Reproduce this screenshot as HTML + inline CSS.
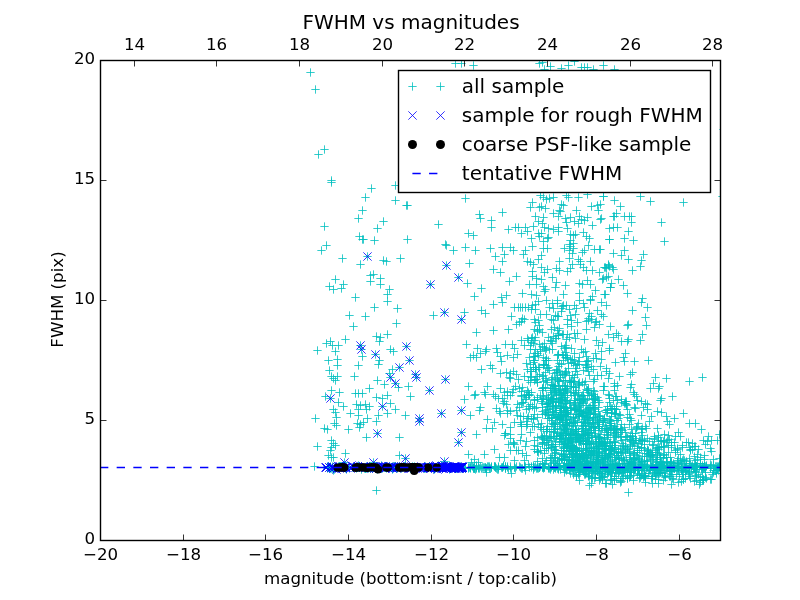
<!DOCTYPE html>
<html lang="en"><head><meta charset="utf-8"><title>FWHM vs magnitudes</title>
<style>html,body{margin:0;padding:0;background:#fff;overflow:hidden}svg{display:block}</style></head>
<body>
<svg width="800" height="600" viewBox="0 0 800 600">
<rect width="800" height="600" fill="#fff"/>
<defs><clipPath id="ax"><rect x="100" y="60" width="621" height="481"/></clipPath></defs>
<g clip-path="url(#ax)">
<path d="M327.33 182.5h8.34M331.5 178.33v8.34M367.33 188.5h8.34M371.5 184.33v8.34M391.33 185.5h8.34M395.5 181.33v8.34M361.33 197.5h8.34M365.5 193.33v8.34M391.33 200.5h8.34M395.5 196.33v8.34M402.33 205.5h8.34M406.5 201.33v8.34M403.33 205.5h8.34M407.5 201.33v8.34M358.33 210.5h8.34M362.5 206.33v8.34M354.33 218.5h8.34M358.5 214.33v8.34M379.33 221.5h8.34M383.5 217.33v8.34M320.33 226.5h8.34M324.5 222.33v8.34M373.33 228.5h8.34M377.5 224.33v8.34M434.33 224.5h8.34M438.5 220.33v8.34M355.33 236.5h8.34M359.5 232.33v8.34M358.33 239.5h8.34M362.5 235.33v8.34M359.33 239.5h8.34M363.5 235.33v8.34M370.33 240.5h8.34M374.5 236.33v8.34M403.33 239.5h8.34M407.5 235.33v8.34M322.33 245.5h8.34M326.5 241.33v8.34M317.33 250.5h8.34M321.5 246.33v8.34M441.33 244.5h8.34M445.5 240.33v8.34M442.33 245.5h8.34M446.5 241.33v8.34M338.33 258.5h8.34M342.5 254.33v8.34M363.33 256.5h8.34M367.5 252.33v8.34M356.33 264.5h8.34M360.5 260.33v8.34M379.33 260.5h8.34M383.5 256.33v8.34M382.33 261.5h8.34M386.5 257.33v8.34M396.33 258.5h8.34M400.5 254.33v8.34M442.33 265.5h8.34M446.5 261.33v8.34M331.33 279.5h8.34M335.5 275.33v8.34M366.33 275.5h8.34M370.5 271.33v8.34M369.33 274.5h8.34M373.5 270.33v8.34M376.33 278.5h8.34M380.5 274.33v8.34M366.33 281.5h8.34M370.5 277.33v8.34M376.33 284.5h8.34M380.5 280.33v8.34M426.33 284.5h8.34M430.5 280.33v8.34M325.33 286.5h8.34M329.5 282.33v8.34M329.33 289.5h8.34M333.5 285.33v8.34M339.33 284.5h8.34M343.5 280.33v8.34M337.33 288.5h8.34M341.5 284.33v8.34M385.33 289.5h8.34M389.5 285.33v8.34M383.33 294.5h8.34M387.5 290.33v8.34M351.33 297.5h8.34M355.5 293.33v8.34M383.33 301.5h8.34M387.5 297.33v8.34M370.33 307.5h8.34M374.5 303.33v8.34M393.33 308.5h8.34M397.5 304.33v8.34M345.33 315.5h8.34M349.5 311.33v8.34M361.33 316.5h8.34M365.5 312.33v8.34M429.33 315.5h8.34M433.5 311.33v8.34M440.33 312.5h8.34M444.5 308.33v8.34M349.33 326.5h8.34M353.5 322.33v8.34M392.33 323.5h8.34M396.5 319.33v8.34M383.33 334.5h8.34M387.5 330.33v8.34M372.33 336.5h8.34M376.5 332.33v8.34M376.33 337.5h8.34M380.5 333.33v8.34M375.33 341.5h8.34M379.5 337.33v8.34M341.33 339.5h8.34M345.5 335.33v8.34M326.33 341.5h8.34M330.5 337.33v8.34M322.33 343.5h8.34M326.5 339.33v8.34M328.33 345.5h8.34M332.5 341.33v8.34M334.33 345.5h8.34M338.5 341.33v8.34M313.33 350.5h8.34M317.5 346.33v8.34M331.33 351.5h8.34M335.5 347.33v8.34M356.33 345.5h8.34M360.5 341.33v8.34M357.33 349.5h8.34M361.5 345.33v8.34M358.33 356.5h8.34M362.5 352.33v8.34M371.33 354.5h8.34M375.5 350.33v8.34M386.33 349.5h8.34M390.5 345.33v8.34M389.33 351.5h8.34M393.5 347.33v8.34M402.33 346.5h8.34M406.5 342.33v8.34M405.33 360.5h8.34M409.5 356.33v8.34M375.33 360.5h8.34M379.5 356.33v8.34M374.33 364.5h8.34M378.5 360.33v8.34M324.33 360.5h8.34M328.5 356.33v8.34M333.33 359.5h8.34M337.5 355.33v8.34M333.33 365.5h8.34M337.5 361.33v8.34M354.33 365.5h8.34M358.5 361.33v8.34M395.33 367.5h8.34M399.5 363.33v8.34M388.33 369.5h8.34M392.5 365.33v8.34M385.33 373.5h8.34M389.5 369.33v8.34M386.33 377.5h8.34M390.5 373.33v8.34M350.33 376.5h8.34M354.5 372.33v8.34M325.33 370.5h8.34M329.5 366.33v8.34M327.33 376.5h8.34M331.5 372.33v8.34M329.33 378.5h8.34M333.5 374.33v8.34M333.33 376.5h8.34M337.5 372.33v8.34M331.33 380.5h8.34M335.5 376.33v8.34M373.33 380.5h8.34M377.5 376.33v8.34M411.33 374.5h8.34M415.5 370.33v8.34M412.33 377.5h8.34M416.5 373.33v8.34M391.33 383.5h8.34M395.5 379.33v8.34M380.33 384.5h8.34M384.5 380.33v8.34M394.33 387.5h8.34M398.5 383.33v8.34M404.33 386.5h8.34M408.5 382.33v8.34M441.33 379.5h8.34M445.5 375.33v8.34M365.33 388.5h8.34M369.5 384.33v8.34M425.33 390.5h8.34M429.5 386.33v8.34M327.33 390.5h8.34M331.5 386.33v8.34M335.33 392.5h8.34M339.5 388.33v8.34M351.33 393.5h8.34M355.5 389.33v8.34M354.33 393.5h8.34M358.5 389.33v8.34M358.33 393.5h8.34M362.5 389.33v8.34M372.33 397.5h8.34M376.5 393.33v8.34M378.33 398.5h8.34M382.5 394.33v8.34M383.33 395.5h8.34M387.5 391.33v8.34M406.33 396.5h8.34M410.5 392.33v8.34M326.33 398.5h8.34M330.5 394.33v8.34M321.33 396.5h8.34M325.5 392.33v8.34M334.33 402.5h8.34M338.5 398.33v8.34M339.33 406.5h8.34M343.5 402.33v8.34M386.33 403.5h8.34M390.5 399.33v8.34M378.33 406.5h8.34M382.5 402.33v8.34M352.33 404.5h8.34M356.5 400.33v8.34M356.33 405.5h8.34M360.5 401.33v8.34M361.33 404.5h8.34M365.5 400.33v8.34M365.33 406.5h8.34M369.5 402.33v8.34M362.33 409.5h8.34M366.5 405.33v8.34M354.33 409.5h8.34M358.5 405.33v8.34M346.33 413.5h8.34M350.5 409.33v8.34M329.33 409.5h8.34M333.5 405.33v8.34M331.33 412.5h8.34M335.5 408.33v8.34M391.33 409.5h8.34M395.5 405.33v8.34M383.33 413.5h8.34M387.5 409.33v8.34M374.33 415.5h8.34M378.5 411.33v8.34M354.33 415.5h8.34M358.5 411.33v8.34M401.33 415.5h8.34M405.5 411.33v8.34M437.33 413.5h8.34M441.5 409.33v8.34M415.33 418.5h8.34M419.5 414.33v8.34M311.33 418.5h8.34M315.5 414.33v8.34M332.33 417.5h8.34M336.5 413.33v8.34M363.33 418.5h8.34M367.5 414.33v8.34M330.33 423.5h8.34M334.5 419.33v8.34M332.33 425.5h8.34M336.5 421.33v8.34M320.33 428.5h8.34M324.5 424.33v8.34M323.33 429.5h8.34M327.5 425.33v8.34M344.33 429.5h8.34M348.5 425.33v8.34M353.33 423.5h8.34M357.5 419.33v8.34M356.33 424.5h8.34M360.5 420.33v8.34M359.33 422.5h8.34M363.5 418.33v8.34M355.33 427.5h8.34M359.5 423.33v8.34M372.33 421.5h8.34M376.5 417.33v8.34M373.33 433.5h8.34M377.5 429.33v8.34M362.33 437.5h8.34M366.5 433.33v8.34M395.33 437.5h8.34M399.5 433.33v8.34M415.33 421.5h8.34M419.5 417.33v8.34M313.33 446.5h8.34M317.5 442.33v8.34M327.33 440.5h8.34M331.5 436.33v8.34M329.33 443.5h8.34M333.5 439.33v8.34M327.33 447.5h8.34M331.5 443.33v8.34M331.33 445.5h8.34M335.5 441.33v8.34M326.33 450.5h8.34M330.5 446.33v8.34M341.33 453.5h8.34M345.5 449.33v8.34M324.33 455.5h8.34M328.5 451.33v8.34M327.33 457.5h8.34M331.5 453.33v8.34M329.33 457.5h8.34M333.5 453.33v8.34M395.33 455.5h8.34M399.5 451.33v8.34M401.33 458.5h8.34M405.5 454.33v8.34M310.33 466.5h8.34M314.5 462.33v8.34M372.33 490.5h8.34M376.5 486.33v8.34M369.33 462.5h8.34M373.5 458.33v8.34M340.33 462.5h8.34M344.5 458.33v8.34M440.33 461.5h8.34M444.5 457.33v8.34M306.33 72.5h8.34M310.5 68.33v8.34M311.33 89.5h8.34M315.5 85.33v8.34M320.33 149.5h8.34M324.5 145.33v8.34M314.33 154.5h8.34M318.5 150.33v8.34M327.33 180.5h8.34M331.5 176.33v8.34M719.33 129.5h8.34M723.5 125.33v8.34M451.33 63.5h8.34M455.5 59.33v8.34M457.33 63.5h8.34M461.5 59.33v8.34M469.33 65.5h8.34M473.5 61.33v8.34M535.33 63.5h8.34M539.5 59.33v8.34M538.33 62.5h8.34M542.5 58.33v8.34M546.33 66.5h8.34M550.5 62.33v8.34M557.33 68.5h8.34M561.5 64.33v8.34M564.33 65.5h8.34M568.5 61.33v8.34M570.33 61.5h8.34M574.5 57.33v8.34M577.33 67.5h8.34M581.5 63.33v8.34M580.33 67.5h8.34M584.5 63.33v8.34M583.33 67.5h8.34M587.5 63.33v8.34M599.33 65.5h8.34M603.5 61.33v8.34M540.33 69.5h8.34M544.5 65.33v8.34M589.33 69.5h8.34M593.5 65.33v8.34M610.33 69.5h8.34M614.5 65.33v8.34M461.33 198.5h8.34M465.5 194.33v8.34M536.33 195.5h8.34M540.5 191.33v8.34M539.33 197.5h8.34M543.5 193.33v8.34M542.33 199.5h8.34M546.5 195.33v8.34M545.33 198.5h8.34M549.5 194.33v8.34M549.33 197.5h8.34M553.5 193.33v8.34M528.33 202.5h8.34M532.5 198.33v8.34M526.33 207.5h8.34M530.5 203.33v8.34M537.33 206.5h8.34M541.5 202.33v8.34M562.33 195.5h8.34M566.5 191.33v8.34M564.33 197.5h8.34M568.5 193.33v8.34M574.33 197.5h8.34M578.5 193.33v8.34M583.33 194.5h8.34M587.5 190.33v8.34M599.33 196.5h8.34M603.5 192.33v8.34M557.33 204.5h8.34M561.5 200.33v8.34M559.33 205.5h8.34M563.5 201.33v8.34M555.33 210.5h8.34M559.5 206.33v8.34M572.33 210.5h8.34M576.5 206.33v8.34M593.33 205.5h8.34M597.5 201.33v8.34M594.33 210.5h8.34M598.5 206.33v8.34M587.33 206.5h8.34M591.5 202.33v8.34M498.33 212.5h8.34M502.5 208.33v8.34M475.33 214.5h8.34M479.5 210.33v8.34M476.33 218.5h8.34M480.5 214.33v8.34M487.33 220.5h8.34M491.5 216.33v8.34M487.33 227.5h8.34M491.5 223.33v8.34M531.33 216.5h8.34M535.5 212.33v8.34M539.33 217.5h8.34M543.5 213.33v8.34M534.33 221.5h8.34M538.5 217.33v8.34M538.33 223.5h8.34M542.5 219.33v8.34M529.33 226.5h8.34M533.5 222.33v8.34M540.33 227.5h8.34M544.5 223.33v8.34M544.33 228.5h8.34M548.5 224.33v8.34M554.33 216.5h8.34M558.5 212.33v8.34M561.33 218.5h8.34M565.5 214.33v8.34M566.33 217.5h8.34M570.5 213.33v8.34M562.33 222.5h8.34M566.5 218.33v8.34M570.33 221.5h8.34M574.5 217.33v8.34M575.33 216.5h8.34M579.5 212.33v8.34M577.33 219.5h8.34M581.5 215.33v8.34M574.33 223.5h8.34M578.5 219.33v8.34M580.33 220.5h8.34M584.5 216.33v8.34M596.33 219.5h8.34M600.5 215.33v8.34M588.33 225.5h8.34M592.5 221.33v8.34M563.33 228.5h8.34M567.5 224.33v8.34M605.33 228.5h8.34M609.5 224.33v8.34M504.33 229.5h8.34M508.5 225.33v8.34M511.33 227.5h8.34M515.5 223.33v8.34M514.33 227.5h8.34M518.5 223.33v8.34M521.33 227.5h8.34M525.5 223.33v8.34M517.33 233.5h8.34M521.5 229.33v8.34M523.33 231.5h8.34M527.5 227.33v8.34M534.33 233.5h8.34M538.5 229.33v8.34M537.33 233.5h8.34M541.5 229.33v8.34M549.33 229.5h8.34M553.5 225.33v8.34M554.33 231.5h8.34M558.5 227.33v8.34M464.33 233.5h8.34M468.5 229.33v8.34M469.33 235.5h8.34M473.5 231.33v8.34M571.33 234.5h8.34M575.5 230.33v8.34M579.33 232.5h8.34M583.5 228.33v8.34M582.33 236.5h8.34M586.5 232.33v8.34M527.33 238.5h8.34M531.5 234.33v8.34M543.33 238.5h8.34M547.5 234.33v8.34M539.33 241.5h8.34M543.5 237.33v8.34M566.33 240.5h8.34M570.5 236.33v8.34M565.33 244.5h8.34M569.5 240.33v8.34M605.33 239.5h8.34M609.5 235.33v8.34M461.33 247.5h8.34M465.5 243.33v8.34M449.33 250.5h8.34M453.5 246.33v8.34M471.33 250.5h8.34M475.5 246.33v8.34M486.33 248.5h8.34M490.5 244.33v8.34M498.33 247.5h8.34M502.5 243.33v8.34M506.33 247.5h8.34M510.5 243.33v8.34M509.33 250.5h8.34M513.5 246.33v8.34M528.33 246.5h8.34M532.5 242.33v8.34M539.33 248.5h8.34M543.5 244.33v8.34M521.33 250.5h8.34M525.5 246.33v8.34M519.33 254.5h8.34M523.5 250.33v8.34M560.33 248.5h8.34M564.5 244.33v8.34M566.33 246.5h8.34M570.5 242.33v8.34M580.33 250.5h8.34M584.5 246.33v8.34M578.33 252.5h8.34M582.5 248.33v8.34M590.33 249.5h8.34M594.5 245.33v8.34M595.33 249.5h8.34M599.5 245.33v8.34M491.33 256.5h8.34M495.5 252.33v8.34M500.33 254.5h8.34M504.5 250.33v8.34M498.33 261.5h8.34M502.5 257.33v8.34M537.33 255.5h8.34M541.5 251.33v8.34M534.33 259.5h8.34M538.5 255.33v8.34M523.33 261.5h8.34M527.5 257.33v8.34M526.33 262.5h8.34M530.5 258.33v8.34M529.33 264.5h8.34M533.5 260.33v8.34M555.33 261.5h8.34M559.5 257.33v8.34M565.33 258.5h8.34M569.5 254.33v8.34M574.33 259.5h8.34M578.5 255.33v8.34M576.33 261.5h8.34M580.5 257.33v8.34M568.33 264.5h8.34M572.5 260.33v8.34M465.33 263.5h8.34M469.5 259.33v8.34M489.33 269.5h8.34M493.5 265.33v8.34M496.33 272.5h8.34M500.5 268.33v8.34M537.33 267.5h8.34M541.5 263.33v8.34M543.33 269.5h8.34M547.5 265.33v8.34M540.33 272.5h8.34M544.5 268.33v8.34M528.33 271.5h8.34M532.5 267.33v8.34M552.33 268.5h8.34M556.5 264.33v8.34M555.33 270.5h8.34M559.5 266.33v8.34M563.33 271.5h8.34M567.5 267.33v8.34M566.33 268.5h8.34M570.5 264.33v8.34M579.33 267.5h8.34M583.5 263.33v8.34M582.33 270.5h8.34M586.5 266.33v8.34M588.33 270.5h8.34M592.5 266.33v8.34M601.33 267.5h8.34M605.5 263.33v8.34M605.33 266.5h8.34M609.5 262.33v8.34M454.33 277.5h8.34M458.5 273.33v8.34M512.33 276.5h8.34M516.5 272.33v8.34M505.33 281.5h8.34M509.5 277.33v8.34M528.33 276.5h8.34M532.5 272.33v8.34M532.33 278.5h8.34M536.5 274.33v8.34M537.33 279.5h8.34M541.5 275.33v8.34M548.33 277.5h8.34M552.5 273.33v8.34M552.33 282.5h8.34M556.5 278.33v8.34M463.33 283.5h8.34M467.5 279.33v8.34M525.33 284.5h8.34M529.5 280.33v8.34M532.33 284.5h8.34M536.5 280.33v8.34M539.33 286.5h8.34M543.5 282.33v8.34M541.33 289.5h8.34M545.5 285.33v8.34M561.33 285.5h8.34M565.5 281.33v8.34M575.33 283.5h8.34M579.5 279.33v8.34M583.33 280.5h8.34M587.5 276.33v8.34M586.33 284.5h8.34M590.5 280.33v8.34M599.33 278.5h8.34M603.5 274.33v8.34M604.33 276.5h8.34M608.5 272.33v8.34M477.33 288.5h8.34M481.5 284.33v8.34M470.33 296.5h8.34M474.5 292.33v8.34M497.33 297.5h8.34M501.5 293.33v8.34M502.33 295.5h8.34M506.5 291.33v8.34M518.33 293.5h8.34M522.5 289.33v8.34M527.33 294.5h8.34M531.5 290.33v8.34M532.33 295.5h8.34M536.5 291.33v8.34M540.33 291.5h8.34M544.5 287.33v8.34M559.33 294.5h8.34M563.5 290.33v8.34M591.33 290.5h8.34M595.5 286.33v8.34M588.33 296.5h8.34M592.5 292.33v8.34M586.33 299.5h8.34M590.5 295.33v8.34M601.33 294.5h8.34M605.5 290.33v8.34M460.33 312.5h8.34M464.5 308.33v8.34M457.33 319.5h8.34M461.5 315.33v8.34M477.33 310.5h8.34M481.5 306.33v8.34M481.33 313.5h8.34M485.5 309.33v8.34M489.33 304.5h8.34M493.5 300.33v8.34M498.33 302.5h8.34M502.5 298.33v8.34M510.33 307.5h8.34M514.5 303.33v8.34M514.33 307.5h8.34M518.5 303.33v8.34M516.33 307.5h8.34M520.5 303.33v8.34M518.33 307.5h8.34M522.5 303.33v8.34M521.33 307.5h8.34M525.5 303.33v8.34M524.33 307.5h8.34M528.5 303.33v8.34M507.33 316.5h8.34M511.5 312.33v8.34M518.33 318.5h8.34M522.5 314.33v8.34M520.33 319.5h8.34M524.5 315.33v8.34M517.33 321.5h8.34M521.5 317.33v8.34M515.33 322.5h8.34M519.5 318.33v8.34M512.33 324.5h8.34M516.5 320.33v8.34M472.33 332.5h8.34M476.5 328.33v8.34M489.33 330.5h8.34M493.5 326.33v8.34M504.33 329.5h8.34M508.5 325.33v8.34M462.33 344.5h8.34M466.5 340.33v8.34M473.33 348.5h8.34M477.5 344.33v8.34M469.33 355.5h8.34M473.5 351.33v8.34M466.33 357.5h8.34M470.5 353.33v8.34M472.33 357.5h8.34M476.5 353.33v8.34M476.33 353.5h8.34M480.5 349.33v8.34M482.33 349.5h8.34M486.5 345.33v8.34M481.33 351.5h8.34M485.5 347.33v8.34M492.33 348.5h8.34M496.5 344.33v8.34M493.33 352.5h8.34M497.5 348.33v8.34M501.33 344.5h8.34M505.5 340.33v8.34M508.33 344.5h8.34M512.5 340.33v8.34M510.33 348.5h8.34M514.5 344.33v8.34M517.33 340.5h8.34M521.5 336.33v8.34M520.33 345.5h8.34M524.5 341.33v8.34M523.33 338.5h8.34M527.5 334.33v8.34M524.33 340.5h8.34M528.5 336.33v8.34M496.33 356.5h8.34M500.5 352.33v8.34M503.33 355.5h8.34M507.5 351.33v8.34M509.33 357.5h8.34M513.5 353.33v8.34M513.33 354.5h8.34M517.5 350.33v8.34M525.33 357.5h8.34M529.5 353.33v8.34M477.33 369.5h8.34M481.5 365.33v8.34M486.33 365.5h8.34M490.5 361.33v8.34M488.33 368.5h8.34M492.5 364.33v8.34M497.33 361.5h8.34M501.5 357.33v8.34M496.33 373.5h8.34M500.5 369.33v8.34M502.33 372.5h8.34M506.5 368.33v8.34M506.33 373.5h8.34M510.5 369.33v8.34M505.33 377.5h8.34M509.5 373.33v8.34M506.33 378.5h8.34M510.5 374.33v8.34M509.33 371.5h8.34M513.5 367.33v8.34M512.33 374.5h8.34M516.5 370.33v8.34M514.33 379.5h8.34M518.5 375.33v8.34M520.33 376.5h8.34M524.5 372.33v8.34M523.33 369.5h8.34M527.5 365.33v8.34M522.33 363.5h8.34M526.5 359.33v8.34M464.33 386.5h8.34M468.5 382.33v8.34M483.33 386.5h8.34M487.5 382.33v8.34M496.33 388.5h8.34M500.5 384.33v8.34M500.33 392.5h8.34M504.5 388.33v8.34M511.33 386.5h8.34M515.5 382.33v8.34M515.33 388.5h8.34M519.5 384.33v8.34M517.33 391.5h8.34M521.5 387.33v8.34M471.33 394.5h8.34M475.5 390.33v8.34M470.33 395.5h8.34M474.5 391.33v8.34M480.33 392.5h8.34M484.5 388.33v8.34M481.33 394.5h8.34M485.5 390.33v8.34M489.33 394.5h8.34M493.5 390.33v8.34M491.33 396.5h8.34M495.5 392.33v8.34M494.33 398.5h8.34M498.5 394.33v8.34M498.33 398.5h8.34M502.5 394.33v8.34M500.33 401.5h8.34M504.5 397.33v8.34M502.33 404.5h8.34M506.5 400.33v8.34M499.33 403.5h8.34M503.5 399.33v8.34M460.33 399.5h8.34M464.5 395.33v8.34M457.33 410.5h8.34M461.5 406.33v8.34M476.33 407.5h8.34M480.5 403.33v8.34M475.33 410.5h8.34M479.5 406.33v8.34M466.33 415.5h8.34M470.5 411.33v8.34M492.33 408.5h8.34M496.5 404.33v8.34M495.33 411.5h8.34M499.5 407.33v8.34M496.33 413.5h8.34M500.5 409.33v8.34M503.33 410.5h8.34M507.5 406.33v8.34M506.33 411.5h8.34M510.5 407.33v8.34M503.33 413.5h8.34M507.5 409.33v8.34M513.33 404.5h8.34M517.5 400.33v8.34M515.33 407.5h8.34M519.5 403.33v8.34M512.33 410.5h8.34M516.5 406.33v8.34M513.33 415.5h8.34M517.5 411.33v8.34M518.33 402.5h8.34M522.5 398.33v8.34M521.33 399.5h8.34M525.5 395.33v8.34M523.33 390.5h8.34M527.5 386.33v8.34M525.33 394.5h8.34M529.5 390.33v8.34M483.33 419.5h8.34M487.5 415.33v8.34M524.33 416.5h8.34M528.5 412.33v8.34M457.33 432.5h8.34M461.5 428.33v8.34M454.33 442.5h8.34M458.5 438.33v8.34M472.33 434.5h8.34M476.5 430.33v8.34M482.33 428.5h8.34M486.5 424.33v8.34M488.33 428.5h8.34M492.5 424.33v8.34M490.33 422.5h8.34M494.5 418.33v8.34M498.33 424.5h8.34M502.5 420.33v8.34M510.33 422.5h8.34M514.5 418.33v8.34M506.33 427.5h8.34M510.5 423.33v8.34M501.33 433.5h8.34M505.5 429.33v8.34M500.33 435.5h8.34M504.5 431.33v8.34M504.33 444.5h8.34M508.5 440.33v8.34M490.33 449.5h8.34M494.5 445.33v8.34M480.33 454.5h8.34M484.5 450.33v8.34M464.33 454.5h8.34M468.5 450.33v8.34M517.33 434.5h8.34M521.5 430.33v8.34M516.33 440.5h8.34M520.5 436.33v8.34M514.33 450.5h8.34M518.5 446.33v8.34M521.33 446.5h8.34M525.5 442.33v8.34M522.33 455.5h8.34M526.5 451.33v8.34M495.33 457.5h8.34M499.5 453.33v8.34M500.33 457.5h8.34M504.5 453.33v8.34M470.33 459.5h8.34M474.5 455.33v8.34M467.33 462.5h8.34M471.5 458.33v8.34M474.33 462.5h8.34M478.5 458.33v8.34M510.33 460.5h8.34M514.5 456.33v8.34M526.33 432.5h8.34M530.5 428.33v8.34M530.33 440.5h8.34M534.5 436.33v8.34M533.33 446.5h8.34M537.5 442.33v8.34M534.33 452.5h8.34M538.5 448.33v8.34M528.33 426.5h8.34M532.5 422.33v8.34M523.33 424.5h8.34M527.5 420.33v8.34M482.33 472.5h8.34M486.5 468.33v8.34M507.33 473.5h8.34M511.5 469.33v8.34M572.33 475.5h8.34M576.5 471.33v8.34M585.33 485.5h8.34M589.5 481.33v8.34M601.33 483.5h8.34M605.5 479.33v8.34M595.33 480.5h8.34M599.5 476.33v8.34M599.33 196.5h8.34M603.5 192.33v8.34M610.33 200.5h8.34M614.5 196.33v8.34M636.33 196.5h8.34M640.5 192.33v8.34M646.33 201.5h8.34M650.5 197.33v8.34M679.33 202.5h8.34M683.5 198.33v8.34M616.33 206.5h8.34M620.5 202.33v8.34M612.33 213.5h8.34M616.5 209.33v8.34M609.33 216.5h8.34M613.5 212.33v8.34M610.33 216.5h8.34M614.5 212.33v8.34M620.33 216.5h8.34M624.5 212.33v8.34M625.33 216.5h8.34M629.5 212.33v8.34M627.33 216.5h8.34M631.5 212.33v8.34M597.33 218.5h8.34M601.5 214.33v8.34M627.33 222.5h8.34M631.5 218.33v8.34M657.33 222.5h8.34M661.5 218.33v8.34M609.33 227.5h8.34M613.5 223.33v8.34M613.33 227.5h8.34M617.5 223.33v8.34M624.33 231.5h8.34M628.5 227.33v8.34M605.33 239.5h8.34M609.5 235.33v8.34M620.33 238.5h8.34M624.5 234.33v8.34M629.33 240.5h8.34M633.5 236.33v8.34M660.33 241.5h8.34M664.5 237.33v8.34M596.33 249.5h8.34M600.5 245.33v8.34M609.33 253.5h8.34M613.5 249.33v8.34M620.33 250.5h8.34M624.5 246.33v8.34M617.33 255.5h8.34M621.5 251.33v8.34M639.33 254.5h8.34M643.5 250.33v8.34M624.33 259.5h8.34M628.5 255.33v8.34M637.33 260.5h8.34M641.5 256.33v8.34M636.33 266.5h8.34M640.5 262.33v8.34M604.33 264.5h8.34M608.5 260.33v8.34M600.33 267.5h8.34M604.5 263.33v8.34M608.33 267.5h8.34M612.5 263.33v8.34M609.33 269.5h8.34M613.5 265.33v8.34M628.33 270.5h8.34M632.5 266.33v8.34M602.33 277.5h8.34M606.5 273.33v8.34M598.33 279.5h8.34M602.5 275.33v8.34M614.33 279.5h8.34M618.5 275.33v8.34M607.33 283.5h8.34M611.5 279.33v8.34M619.33 285.5h8.34M623.5 281.33v8.34M600.33 294.5h8.34M604.5 290.33v8.34M623.33 293.5h8.34M627.5 289.33v8.34M638.33 298.5h8.34M642.5 294.33v8.34M602.33 305.5h8.34M606.5 301.33v8.34M637.33 302.5h8.34M641.5 298.33v8.34M643.33 307.5h8.34M647.5 303.33v8.34M597.33 314.5h8.34M601.5 310.33v8.34M599.33 316.5h8.34M603.5 312.33v8.34M641.33 317.5h8.34M645.5 313.33v8.34M606.33 326.5h8.34M610.5 322.33v8.34M623.33 325.5h8.34M627.5 321.33v8.34M624.33 324.5h8.34M628.5 320.33v8.34M604.33 334.5h8.34M608.5 330.33v8.34M609.33 337.5h8.34M613.5 333.33v8.34M614.33 335.5h8.34M618.5 331.33v8.34M638.33 334.5h8.34M642.5 330.33v8.34M636.33 340.5h8.34M640.5 336.33v8.34M617.33 341.5h8.34M621.5 337.33v8.34M598.33 342.5h8.34M602.5 338.33v8.34M605.33 348.5h8.34M609.5 344.33v8.34M597.33 351.5h8.34M601.5 347.33v8.34M621.33 353.5h8.34M625.5 349.33v8.34M619.33 357.5h8.34M623.5 353.33v8.34M611.33 362.5h8.34M615.5 358.33v8.34M630.33 361.5h8.34M634.5 357.33v8.34M597.33 359.5h8.34M601.5 355.33v8.34M628.33 372.5h8.34M632.5 368.33v8.34M605.33 373.5h8.34M609.5 369.33v8.34M597.33 375.5h8.34M601.5 371.33v8.34M615.33 376.5h8.34M619.5 372.33v8.34M604.33 378.5h8.34M608.5 374.33v8.34M662.33 378.5h8.34M666.5 374.33v8.34M698.33 377.5h8.34M702.5 373.33v8.34M685.33 381.5h8.34M689.5 377.33v8.34M649.33 383.5h8.34M653.5 379.33v8.34M613.33 385.5h8.34M617.5 381.33v8.34M600.33 386.5h8.34M604.5 382.33v8.34M626.33 387.5h8.34M630.5 383.33v8.34M654.33 388.5h8.34M658.5 384.33v8.34M599.33 390.5h8.34M603.5 386.33v8.34M630.33 394.5h8.34M634.5 390.33v8.34M632.33 396.5h8.34M636.5 392.33v8.34M605.33 395.5h8.34M609.5 391.33v8.34M657.33 398.5h8.34M661.5 394.33v8.34M668.33 396.5h8.34M672.5 392.33v8.34M613.33 400.5h8.34M617.5 396.33v8.34M605.33 402.5h8.34M609.5 398.33v8.34M620.33 403.5h8.34M624.5 399.33v8.34M641.33 403.5h8.34M645.5 399.33v8.34M643.33 404.5h8.34M647.5 400.33v8.34M608.33 408.5h8.34M612.5 404.33v8.34M623.33 409.5h8.34M627.5 405.33v8.34M643.33 409.5h8.34M647.5 405.33v8.34M653.33 411.5h8.34M657.5 407.33v8.34M679.33 413.5h8.34M683.5 409.33v8.34M602.33 412.5h8.34M606.5 408.33v8.34M611.33 413.5h8.34M615.5 409.33v8.34M615.33 414.5h8.34M619.5 410.33v8.34M625.33 414.5h8.34M629.5 410.33v8.34M637.33 415.5h8.34M641.5 411.33v8.34M647.33 416.5h8.34M651.5 412.33v8.34M662.33 416.5h8.34M666.5 412.33v8.34M600.33 418.5h8.34M604.5 414.33v8.34M614.33 418.5h8.34M618.5 414.33v8.34M626.33 418.5h8.34M630.5 414.33v8.34M624.33 492.5h8.34M628.5 488.33v8.34M718.33 196.5h8.34M722.5 192.33v8.34M531.33 304.5h8.34M535.5 300.33v8.34M527.33 309.5h8.34M531.5 305.33v8.34M528.33 305.5h8.34M532.5 301.33v8.34M531.33 309.5h8.34M535.5 305.33v8.34M534.33 301.5h8.34M538.5 297.33v8.34M530.33 319.5h8.34M534.5 315.33v8.34M553.33 303.5h8.34M557.5 299.33v8.34M547.33 319.5h8.34M551.5 315.33v8.34M545.33 307.5h8.34M549.5 303.33v8.34M551.33 315.5h8.34M555.5 311.33v8.34M536.33 314.5h8.34M540.5 310.33v8.34M542.33 300.5h8.34M546.5 296.33v8.34M553.33 300.5h8.34M557.5 296.33v8.34M542.33 314.5h8.34M546.5 310.33v8.34M553.33 316.5h8.34M557.5 312.33v8.34M548.33 303.5h8.34M552.5 299.33v8.34M549.33 308.5h8.34M553.5 304.33v8.34M554.33 316.5h8.34M558.5 312.33v8.34M558.33 306.5h8.34M562.5 302.33v8.34M566.33 315.5h8.34M570.5 311.33v8.34M562.33 305.5h8.34M566.5 301.33v8.34M565.33 309.5h8.34M569.5 305.33v8.34M575.33 300.5h8.34M579.5 296.33v8.34M557.33 311.5h8.34M561.5 307.33v8.34M571.33 314.5h8.34M575.5 310.33v8.34M572.33 308.5h8.34M576.5 304.33v8.34M557.33 308.5h8.34M561.5 304.33v8.34M563.33 319.5h8.34M567.5 315.33v8.34M559.33 305.5h8.34M563.5 301.33v8.34M570.33 305.5h8.34M574.5 301.33v8.34M584.33 318.5h8.34M588.5 314.33v8.34M587.33 319.5h8.34M591.5 315.33v8.34M586.33 300.5h8.34M590.5 296.33v8.34M593.33 310.5h8.34M597.5 306.33v8.34M579.33 303.5h8.34M583.5 299.33v8.34M585.33 313.5h8.34M589.5 309.33v8.34M580.33 307.5h8.34M584.5 303.33v8.34M587.33 316.5h8.34M591.5 312.33v8.34M597.33 302.5h8.34M601.5 298.33v8.34M628.33 310.5h8.34M632.5 306.33v8.34M527.33 338.5h8.34M531.5 334.33v8.34M535.33 325.5h8.34M539.5 321.33v8.34M528.33 337.5h8.34M532.5 333.33v8.34M533.33 330.5h8.34M537.5 326.33v8.34M534.33 320.5h8.34M538.5 316.33v8.34M531.33 322.5h8.34M535.5 318.33v8.34M531.33 337.5h8.34M535.5 333.33v8.34M535.33 329.5h8.34M539.5 325.33v8.34M533.33 331.5h8.34M537.5 327.33v8.34M530.33 329.5h8.34M534.5 325.33v8.34M550.33 327.5h8.34M554.5 323.33v8.34M551.33 338.5h8.34M555.5 334.33v8.34M544.33 337.5h8.34M548.5 333.33v8.34M553.33 330.5h8.34M557.5 326.33v8.34M555.33 328.5h8.34M559.5 324.33v8.34M538.33 332.5h8.34M542.5 328.33v8.34M554.33 333.5h8.34M558.5 329.33v8.34M549.33 336.5h8.34M553.5 332.33v8.34M547.33 329.5h8.34M551.5 325.33v8.34M554.33 335.5h8.34M558.5 331.33v8.34M549.33 320.5h8.34M553.5 316.33v8.34M554.33 335.5h8.34M558.5 331.33v8.34M552.33 338.5h8.34M556.5 334.33v8.34M567.33 326.5h8.34M571.5 322.33v8.34M565.33 337.5h8.34M569.5 333.33v8.34M573.33 333.5h8.34M577.5 329.33v8.34M567.33 320.5h8.34M571.5 316.33v8.34M559.33 334.5h8.34M563.5 330.33v8.34M558.33 334.5h8.34M562.5 330.33v8.34M570.33 333.5h8.34M574.5 329.33v8.34M573.33 322.5h8.34M577.5 318.33v8.34M562.33 339.5h8.34M566.5 335.33v8.34M563.33 334.5h8.34M567.5 330.33v8.34M571.33 338.5h8.34M575.5 334.33v8.34M563.33 324.5h8.34M567.5 320.33v8.34M584.33 320.5h8.34M588.5 316.33v8.34M595.33 324.5h8.34M599.5 320.33v8.34M582.33 321.5h8.34M586.5 317.33v8.34M592.33 321.5h8.34M596.5 317.33v8.34M580.33 339.5h8.34M584.5 335.33v8.34M582.33 329.5h8.34M586.5 325.33v8.34M591.33 322.5h8.34M595.5 318.33v8.34M590.33 327.5h8.34M594.5 323.33v8.34M612.33 333.5h8.34M616.5 329.33v8.34M624.33 339.5h8.34M628.5 335.33v8.34M642.33 325.5h8.34M646.5 321.33v8.34M534.33 355.5h8.34M538.5 351.33v8.34M526.33 345.5h8.34M530.5 341.33v8.34M526.33 349.5h8.34M530.5 345.33v8.34M529.33 356.5h8.34M533.5 352.33v8.34M530.33 340.5h8.34M534.5 336.33v8.34M529.33 343.5h8.34M533.5 339.33v8.34M527.33 342.5h8.34M531.5 338.33v8.34M533.33 353.5h8.34M537.5 349.33v8.34M531.33 356.5h8.34M535.5 352.33v8.34M531.33 349.5h8.34M535.5 345.33v8.34M530.33 353.5h8.34M534.5 349.33v8.34M535.33 344.5h8.34M539.5 340.33v8.34M547.33 341.5h8.34M551.5 337.33v8.34M542.33 358.5h8.34M546.5 354.33v8.34M546.33 340.5h8.34M550.5 336.33v8.34M540.33 347.5h8.34M544.5 343.33v8.34M554.33 354.5h8.34M558.5 350.33v8.34M553.33 355.5h8.34M557.5 351.33v8.34M540.33 343.5h8.34M544.5 339.33v8.34M536.33 351.5h8.34M540.5 347.33v8.34M548.33 349.5h8.34M552.5 345.33v8.34M541.33 350.5h8.34M545.5 346.33v8.34M554.33 354.5h8.34M558.5 350.33v8.34M542.33 348.5h8.34M546.5 344.33v8.34M536.33 349.5h8.34M540.5 345.33v8.34M548.33 343.5h8.34M552.5 339.33v8.34M545.33 349.5h8.34M549.5 345.33v8.34M539.33 357.5h8.34M543.5 353.33v8.34M538.33 346.5h8.34M542.5 342.33v8.34M561.33 357.5h8.34M565.5 353.33v8.34M561.33 352.5h8.34M565.5 348.33v8.34M567.33 348.5h8.34M571.5 344.33v8.34M568.33 359.5h8.34M572.5 355.33v8.34M559.33 355.5h8.34M563.5 351.33v8.34M558.33 354.5h8.34M562.5 350.33v8.34M562.33 347.5h8.34M566.5 343.33v8.34M557.33 346.5h8.34M561.5 342.33v8.34M561.33 345.5h8.34M565.5 341.33v8.34M566.33 359.5h8.34M570.5 355.33v8.34M575.33 357.5h8.34M579.5 353.33v8.34M562.33 355.5h8.34M566.5 351.33v8.34M570.33 353.5h8.34M574.5 349.33v8.34M563.33 358.5h8.34M567.5 354.33v8.34M563.33 357.5h8.34M567.5 353.33v8.34M560.33 348.5h8.34M564.5 344.33v8.34M582.33 356.5h8.34M586.5 352.33v8.34M592.33 340.5h8.34M596.5 336.33v8.34M579.33 352.5h8.34M583.5 348.33v8.34M577.33 349.5h8.34M581.5 345.33v8.34M591.33 353.5h8.34M595.5 349.33v8.34M581.33 351.5h8.34M585.5 347.33v8.34M592.33 358.5h8.34M596.5 354.33v8.34M594.33 345.5h8.34M598.5 341.33v8.34M589.33 358.5h8.34M593.5 354.33v8.34M605.33 350.5h8.34M609.5 346.33v8.34M623.33 341.5h8.34M627.5 337.33v8.34M530.33 360.5h8.34M534.5 356.33v8.34M531.33 367.5h8.34M535.5 363.33v8.34M526.33 371.5h8.34M530.5 367.33v8.34M531.33 369.5h8.34M535.5 365.33v8.34M529.33 367.5h8.34M533.5 363.33v8.34M534.33 367.5h8.34M538.5 363.33v8.34M532.33 379.5h8.34M536.5 375.33v8.34M535.33 367.5h8.34M539.5 363.33v8.34M527.33 371.5h8.34M531.5 367.33v8.34M533.33 376.5h8.34M537.5 372.33v8.34M531.33 367.5h8.34M535.5 363.33v8.34M535.33 374.5h8.34M539.5 370.33v8.34M526.33 364.5h8.34M530.5 360.33v8.34M529.33 362.5h8.34M533.5 358.33v8.34M532.33 369.5h8.34M536.5 365.33v8.34M530.33 360.5h8.34M534.5 356.33v8.34M531.33 379.5h8.34M535.5 375.33v8.34M527.33 377.5h8.34M531.5 373.33v8.34M526.33 376.5h8.34M530.5 372.33v8.34M553.33 370.5h8.34M557.5 366.33v8.34M544.33 367.5h8.34M548.5 363.33v8.34M542.33 365.5h8.34M546.5 361.33v8.34M543.33 368.5h8.34M547.5 364.33v8.34M541.33 372.5h8.34M545.5 368.33v8.34M551.33 378.5h8.34M555.5 374.33v8.34M553.33 372.5h8.34M557.5 368.33v8.34M539.33 364.5h8.34M543.5 360.33v8.34M539.33 375.5h8.34M543.5 371.33v8.34M548.33 377.5h8.34M552.5 373.33v8.34M552.33 369.5h8.34M556.5 365.33v8.34M541.33 360.5h8.34M545.5 356.33v8.34M541.33 378.5h8.34M545.5 374.33v8.34M547.33 379.5h8.34M551.5 375.33v8.34M539.33 365.5h8.34M543.5 361.33v8.34M545.33 370.5h8.34M549.5 366.33v8.34M544.33 360.5h8.34M548.5 356.33v8.34M550.33 373.5h8.34M554.5 369.33v8.34M553.33 360.5h8.34M557.5 356.33v8.34M542.33 360.5h8.34M546.5 356.33v8.34M540.33 364.5h8.34M544.5 360.33v8.34M555.33 363.5h8.34M559.5 359.33v8.34M553.33 379.5h8.34M557.5 375.33v8.34M552.33 372.5h8.34M556.5 368.33v8.34M554.33 366.5h8.34M558.5 362.33v8.34M555.33 371.5h8.34M559.5 367.33v8.34M538.33 376.5h8.34M542.5 372.33v8.34M556.33 375.5h8.34M560.5 371.33v8.34M575.33 364.5h8.34M579.5 360.33v8.34M558.33 374.5h8.34M562.5 370.33v8.34M559.33 360.5h8.34M563.5 356.33v8.34M573.33 364.5h8.34M577.5 360.33v8.34M561.33 373.5h8.34M565.5 369.33v8.34M570.33 377.5h8.34M574.5 373.33v8.34M564.33 368.5h8.34M568.5 364.33v8.34M556.33 377.5h8.34M560.5 373.33v8.34M573.33 374.5h8.34M577.5 370.33v8.34M571.33 371.5h8.34M575.5 367.33v8.34M569.33 363.5h8.34M573.5 359.33v8.34M574.33 361.5h8.34M578.5 357.33v8.34M568.33 375.5h8.34M572.5 371.33v8.34M565.33 375.5h8.34M569.5 371.33v8.34M564.33 363.5h8.34M568.5 359.33v8.34M557.33 364.5h8.34M561.5 360.33v8.34M571.33 365.5h8.34M575.5 361.33v8.34M567.33 362.5h8.34M571.5 358.33v8.34M562.33 372.5h8.34M566.5 368.33v8.34M560.33 374.5h8.34M564.5 370.33v8.34M572.33 368.5h8.34M576.5 364.33v8.34M561.33 371.5h8.34M565.5 367.33v8.34M570.33 360.5h8.34M574.5 356.33v8.34M582.33 361.5h8.34M586.5 357.33v8.34M583.33 361.5h8.34M587.5 357.33v8.34M593.33 375.5h8.34M597.5 371.33v8.34M579.33 370.5h8.34M583.5 366.33v8.34M582.33 364.5h8.34M586.5 360.33v8.34M584.33 371.5h8.34M588.5 367.33v8.34M585.33 375.5h8.34M589.5 371.33v8.34M584.33 360.5h8.34M588.5 356.33v8.34M587.33 366.5h8.34M591.5 362.33v8.34M590.33 379.5h8.34M594.5 375.33v8.34M589.33 369.5h8.34M593.5 365.33v8.34M583.33 367.5h8.34M587.5 363.33v8.34M582.33 367.5h8.34M586.5 363.33v8.34M581.33 365.5h8.34M585.5 361.33v8.34M596.33 366.5h8.34M600.5 362.33v8.34M602.33 371.5h8.34M606.5 367.33v8.34M602.33 368.5h8.34M606.5 364.33v8.34M626.33 374.5h8.34M630.5 370.33v8.34M620.33 361.5h8.34M624.5 357.33v8.34M651.33 377.5h8.34M655.5 373.33v8.34M644.33 360.5h8.34M648.5 356.33v8.34M509.33 389.5h8.34M513.5 385.33v8.34M508.33 392.5h8.34M512.5 388.33v8.34M503.33 395.5h8.34M507.5 391.33v8.34M506.33 395.5h8.34M510.5 391.33v8.34M503.33 391.5h8.34M507.5 387.33v8.34M524.33 392.5h8.34M528.5 388.33v8.34M517.33 395.5h8.34M521.5 391.33v8.34M524.33 395.5h8.34M528.5 391.33v8.34M522.33 394.5h8.34M526.5 390.33v8.34M530.33 380.5h8.34M534.5 376.33v8.34M527.33 392.5h8.34M531.5 388.33v8.34M533.33 382.5h8.34M537.5 378.33v8.34M533.33 397.5h8.34M537.5 393.33v8.34M517.33 396.5h8.34M521.5 392.33v8.34M525.33 395.5h8.34M529.5 391.33v8.34M526.33 382.5h8.34M530.5 378.33v8.34M530.33 399.5h8.34M534.5 395.33v8.34M524.33 380.5h8.34M528.5 376.33v8.34M518.33 387.5h8.34M522.5 383.33v8.34M533.33 399.5h8.34M537.5 395.33v8.34M533.33 382.5h8.34M537.5 378.33v8.34M520.33 395.5h8.34M524.5 391.33v8.34M522.33 397.5h8.34M526.5 393.33v8.34M547.33 384.5h8.34M551.5 380.33v8.34M548.33 385.5h8.34M552.5 381.33v8.34M550.33 393.5h8.34M554.5 389.33v8.34M538.33 390.5h8.34M542.5 386.33v8.34M552.33 391.5h8.34M556.5 387.33v8.34M547.33 394.5h8.34M551.5 390.33v8.34M555.33 390.5h8.34M559.5 386.33v8.34M542.33 380.5h8.34M546.5 376.33v8.34M551.33 385.5h8.34M555.5 381.33v8.34M542.33 395.5h8.34M546.5 391.33v8.34M550.33 388.5h8.34M554.5 384.33v8.34M549.33 385.5h8.34M553.5 381.33v8.34M544.33 399.5h8.34M548.5 395.33v8.34M544.33 397.5h8.34M548.5 393.33v8.34M541.33 387.5h8.34M545.5 383.33v8.34M538.33 399.5h8.34M542.5 395.33v8.34M548.33 388.5h8.34M552.5 384.33v8.34M539.33 396.5h8.34M543.5 392.33v8.34M539.33 381.5h8.34M543.5 377.33v8.34M547.33 392.5h8.34M551.5 388.33v8.34M554.33 381.5h8.34M558.5 377.33v8.34M551.33 388.5h8.34M555.5 384.33v8.34M539.33 387.5h8.34M543.5 383.33v8.34M554.33 386.5h8.34M558.5 382.33v8.34M552.33 395.5h8.34M556.5 391.33v8.34M552.33 398.5h8.34M556.5 394.33v8.34M553.33 380.5h8.34M557.5 376.33v8.34M547.33 398.5h8.34M551.5 394.33v8.34M555.33 381.5h8.34M559.5 377.33v8.34M546.33 388.5h8.34M550.5 384.33v8.34M538.33 388.5h8.34M542.5 384.33v8.34M551.33 392.5h8.34M555.5 388.33v8.34M546.33 390.5h8.34M550.5 386.33v8.34M550.33 386.5h8.34M554.5 382.33v8.34M543.33 382.5h8.34M547.5 378.33v8.34M549.33 398.5h8.34M553.5 394.33v8.34M536.33 395.5h8.34M540.5 391.33v8.34M539.33 398.5h8.34M543.5 394.33v8.34M542.33 399.5h8.34M546.5 395.33v8.34M549.33 388.5h8.34M553.5 384.33v8.34M538.33 388.5h8.34M542.5 384.33v8.34M549.33 399.5h8.34M553.5 395.33v8.34M555.33 394.5h8.34M559.5 390.33v8.34M554.33 392.5h8.34M558.5 388.33v8.34M548.33 399.5h8.34M552.5 395.33v8.34M548.33 399.5h8.34M552.5 395.33v8.34M571.33 393.5h8.34M575.5 389.33v8.34M560.33 385.5h8.34M564.5 381.33v8.34M562.33 390.5h8.34M566.5 386.33v8.34M569.33 386.5h8.34M573.5 382.33v8.34M556.33 390.5h8.34M560.5 386.33v8.34M569.33 381.5h8.34M573.5 377.33v8.34M566.33 382.5h8.34M570.5 378.33v8.34M574.33 383.5h8.34M578.5 379.33v8.34M572.33 390.5h8.34M576.5 386.33v8.34M561.33 380.5h8.34M565.5 376.33v8.34M563.33 386.5h8.34M567.5 382.33v8.34M567.33 395.5h8.34M571.5 391.33v8.34M559.33 392.5h8.34M563.5 388.33v8.34M575.33 385.5h8.34M579.5 381.33v8.34M570.33 381.5h8.34M574.5 377.33v8.34M575.33 382.5h8.34M579.5 378.33v8.34M556.33 399.5h8.34M560.5 395.33v8.34M575.33 399.5h8.34M579.5 395.33v8.34M571.33 387.5h8.34M575.5 383.33v8.34M558.33 399.5h8.34M562.5 395.33v8.34M561.33 397.5h8.34M565.5 393.33v8.34M573.33 398.5h8.34M577.5 394.33v8.34M575.33 399.5h8.34M579.5 395.33v8.34M565.33 381.5h8.34M569.5 377.33v8.34M557.33 398.5h8.34M561.5 394.33v8.34M558.33 395.5h8.34M562.5 391.33v8.34M563.33 391.5h8.34M567.5 387.33v8.34M569.33 387.5h8.34M573.5 383.33v8.34M563.33 388.5h8.34M567.5 384.33v8.34M574.33 384.5h8.34M578.5 380.33v8.34M561.33 389.5h8.34M565.5 385.33v8.34M561.33 388.5h8.34M565.5 384.33v8.34M557.33 394.5h8.34M561.5 390.33v8.34M560.33 393.5h8.34M564.5 389.33v8.34M559.33 393.5h8.34M563.5 389.33v8.34M556.33 389.5h8.34M560.5 385.33v8.34M567.33 382.5h8.34M571.5 378.33v8.34M559.33 380.5h8.34M563.5 376.33v8.34M558.33 385.5h8.34M562.5 381.33v8.34M567.33 386.5h8.34M571.5 382.33v8.34M569.33 392.5h8.34M573.5 388.33v8.34M563.33 395.5h8.34M567.5 391.33v8.34M566.33 392.5h8.34M570.5 388.33v8.34M557.33 395.5h8.34M561.5 391.33v8.34M561.33 386.5h8.34M565.5 382.33v8.34M574.33 394.5h8.34M578.5 390.33v8.34M574.33 392.5h8.34M578.5 388.33v8.34M557.33 397.5h8.34M561.5 393.33v8.34M570.33 395.5h8.34M574.5 391.33v8.34M567.33 380.5h8.34M571.5 376.33v8.34M589.33 381.5h8.34M593.5 377.33v8.34M578.33 382.5h8.34M582.5 378.33v8.34M583.33 399.5h8.34M587.5 395.33v8.34M589.33 399.5h8.34M593.5 395.33v8.34M587.33 393.5h8.34M591.5 389.33v8.34M591.33 396.5h8.34M595.5 392.33v8.34M580.33 384.5h8.34M584.5 380.33v8.34M581.33 381.5h8.34M585.5 377.33v8.34M591.33 398.5h8.34M595.5 394.33v8.34M589.33 390.5h8.34M593.5 386.33v8.34M584.33 390.5h8.34M588.5 386.33v8.34M584.33 388.5h8.34M588.5 384.33v8.34M577.33 396.5h8.34M581.5 392.33v8.34M580.33 398.5h8.34M584.5 394.33v8.34M584.33 392.5h8.34M588.5 388.33v8.34M579.33 399.5h8.34M583.5 395.33v8.34M585.33 395.5h8.34M589.5 391.33v8.34M593.33 397.5h8.34M597.5 393.33v8.34M579.33 395.5h8.34M583.5 391.33v8.34M587.33 395.5h8.34M591.5 391.33v8.34M578.33 395.5h8.34M582.5 391.33v8.34M582.33 389.5h8.34M586.5 385.33v8.34M590.33 391.5h8.34M594.5 387.33v8.34M588.33 398.5h8.34M592.5 394.33v8.34M579.33 399.5h8.34M583.5 395.33v8.34M589.33 394.5h8.34M593.5 390.33v8.34M590.33 399.5h8.34M594.5 395.33v8.34M583.33 390.5h8.34M587.5 386.33v8.34M579.33 395.5h8.34M583.5 391.33v8.34M583.33 390.5h8.34M587.5 386.33v8.34M604.33 394.5h8.34M608.5 390.33v8.34M599.33 386.5h8.34M603.5 382.33v8.34M610.33 390.5h8.34M614.5 386.33v8.34M612.33 396.5h8.34M616.5 392.33v8.34M610.33 383.5h8.34M614.5 379.33v8.34M610.33 386.5h8.34M614.5 382.33v8.34M605.33 398.5h8.34M609.5 394.33v8.34M611.33 396.5h8.34M615.5 392.33v8.34M617.33 399.5h8.34M621.5 395.33v8.34M627.33 384.5h8.34M631.5 380.33v8.34M629.33 392.5h8.34M633.5 388.33v8.34M646.33 388.5h8.34M650.5 384.33v8.34M655.33 386.5h8.34M659.5 382.33v8.34M529.33 419.5h8.34M533.5 415.33v8.34M528.33 406.5h8.34M532.5 402.33v8.34M527.33 418.5h8.34M531.5 414.33v8.34M523.33 418.5h8.34M527.5 414.33v8.34M524.33 406.5h8.34M528.5 402.33v8.34M532.33 407.5h8.34M536.5 403.33v8.34M522.33 409.5h8.34M526.5 405.33v8.34M519.33 402.5h8.34M523.5 398.33v8.34M526.33 404.5h8.34M530.5 400.33v8.34M525.33 408.5h8.34M529.5 404.33v8.34M519.33 416.5h8.34M523.5 412.33v8.34M517.33 403.5h8.34M521.5 399.33v8.34M533.33 417.5h8.34M537.5 413.33v8.34M516.33 416.5h8.34M520.5 412.33v8.34M530.33 400.5h8.34M534.5 396.33v8.34M529.33 418.5h8.34M533.5 414.33v8.34M530.33 414.5h8.34M534.5 410.33v8.34M530.33 408.5h8.34M534.5 404.33v8.34M552.33 405.5h8.34M556.5 401.33v8.34M543.33 406.5h8.34M547.5 402.33v8.34M542.33 412.5h8.34M546.5 408.33v8.34M548.33 411.5h8.34M552.5 407.33v8.34M549.33 401.5h8.34M553.5 397.33v8.34M538.33 411.5h8.34M542.5 407.33v8.34M544.33 403.5h8.34M548.5 399.33v8.34M544.33 412.5h8.34M548.5 408.33v8.34M546.33 400.5h8.34M550.5 396.33v8.34M549.33 405.5h8.34M553.5 401.33v8.34M548.33 408.5h8.34M552.5 404.33v8.34M548.33 415.5h8.34M552.5 411.33v8.34M551.33 412.5h8.34M555.5 408.33v8.34M555.33 419.5h8.34M559.5 415.33v8.34M544.33 403.5h8.34M548.5 399.33v8.34M555.33 419.5h8.34M559.5 415.33v8.34M545.33 418.5h8.34M549.5 414.33v8.34M543.33 409.5h8.34M547.5 405.33v8.34M546.33 409.5h8.34M550.5 405.33v8.34M554.33 416.5h8.34M558.5 412.33v8.34M544.33 402.5h8.34M548.5 398.33v8.34M544.33 415.5h8.34M548.5 411.33v8.34M551.33 406.5h8.34M555.5 402.33v8.34M552.33 410.5h8.34M556.5 406.33v8.34M548.33 406.5h8.34M552.5 402.33v8.34M548.33 401.5h8.34M552.5 397.33v8.34M546.33 400.5h8.34M550.5 396.33v8.34M537.33 401.5h8.34M541.5 397.33v8.34M541.33 414.5h8.34M545.5 410.33v8.34M543.33 404.5h8.34M547.5 400.33v8.34M554.33 402.5h8.34M558.5 398.33v8.34M553.33 417.5h8.34M557.5 413.33v8.34M538.33 407.5h8.34M542.5 403.33v8.34M547.33 417.5h8.34M551.5 413.33v8.34M538.33 414.5h8.34M542.5 410.33v8.34M551.33 402.5h8.34M555.5 398.33v8.34M545.33 406.5h8.34M549.5 402.33v8.34M549.33 414.5h8.34M553.5 410.33v8.34M555.33 402.5h8.34M559.5 398.33v8.34M541.33 413.5h8.34M545.5 409.33v8.34M553.33 418.5h8.34M557.5 414.33v8.34M554.33 416.5h8.34M558.5 412.33v8.34M541.33 410.5h8.34M545.5 406.33v8.34M543.33 418.5h8.34M547.5 414.33v8.34M554.33 401.5h8.34M558.5 397.33v8.34M555.33 412.5h8.34M559.5 408.33v8.34M552.33 417.5h8.34M556.5 413.33v8.34M542.33 404.5h8.34M546.5 400.33v8.34M549.33 414.5h8.34M553.5 410.33v8.34M550.33 414.5h8.34M554.5 410.33v8.34M538.33 403.5h8.34M542.5 399.33v8.34M551.33 407.5h8.34M555.5 403.33v8.34M564.33 413.5h8.34M568.5 409.33v8.34M563.33 400.5h8.34M567.5 396.33v8.34M570.33 402.5h8.34M574.5 398.33v8.34M557.33 414.5h8.34M561.5 410.33v8.34M557.33 418.5h8.34M561.5 414.33v8.34M565.33 403.5h8.34M569.5 399.33v8.34M575.33 407.5h8.34M579.5 403.33v8.34M562.33 408.5h8.34M566.5 404.33v8.34M557.33 417.5h8.34M561.5 413.33v8.34M574.33 406.5h8.34M578.5 402.33v8.34M575.33 415.5h8.34M579.5 411.33v8.34M562.33 407.5h8.34M566.5 403.33v8.34M566.33 402.5h8.34M570.5 398.33v8.34M567.33 408.5h8.34M571.5 404.33v8.34M570.33 409.5h8.34M574.5 405.33v8.34M563.33 410.5h8.34M567.5 406.33v8.34M556.33 416.5h8.34M560.5 412.33v8.34M571.33 414.5h8.34M575.5 410.33v8.34M561.33 403.5h8.34M565.5 399.33v8.34M575.33 416.5h8.34M579.5 412.33v8.34M557.33 412.5h8.34M561.5 408.33v8.34M569.33 417.5h8.34M573.5 413.33v8.34M559.33 415.5h8.34M563.5 411.33v8.34M561.33 412.5h8.34M565.5 408.33v8.34M573.33 410.5h8.34M577.5 406.33v8.34M570.33 400.5h8.34M574.5 396.33v8.34M566.33 407.5h8.34M570.5 403.33v8.34M569.33 405.5h8.34M573.5 401.33v8.34M571.33 408.5h8.34M575.5 404.33v8.34M570.33 409.5h8.34M574.5 405.33v8.34M566.33 419.5h8.34M570.5 415.33v8.34M560.33 400.5h8.34M564.5 396.33v8.34M575.33 410.5h8.34M579.5 406.33v8.34M575.33 411.5h8.34M579.5 407.33v8.34M569.33 418.5h8.34M573.5 414.33v8.34M562.33 416.5h8.34M566.5 412.33v8.34M571.33 400.5h8.34M575.5 396.33v8.34M557.33 414.5h8.34M561.5 410.33v8.34M562.33 419.5h8.34M566.5 415.33v8.34M574.33 414.5h8.34M578.5 410.33v8.34M557.33 408.5h8.34M561.5 404.33v8.34M559.33 407.5h8.34M563.5 403.33v8.34M556.33 400.5h8.34M560.5 396.33v8.34M566.33 410.5h8.34M570.5 406.33v8.34M561.33 412.5h8.34M565.5 408.33v8.34M563.33 414.5h8.34M567.5 410.33v8.34M560.33 407.5h8.34M564.5 403.33v8.34M562.33 401.5h8.34M566.5 397.33v8.34M559.33 415.5h8.34M563.5 411.33v8.34M571.33 404.5h8.34M575.5 400.33v8.34M575.33 403.5h8.34M579.5 399.33v8.34M575.33 414.5h8.34M579.5 410.33v8.34M572.33 409.5h8.34M576.5 405.33v8.34M556.33 408.5h8.34M560.5 404.33v8.34M556.33 408.5h8.34M560.5 404.33v8.34M562.33 410.5h8.34M566.5 406.33v8.34M558.33 403.5h8.34M562.5 399.33v8.34M558.33 415.5h8.34M562.5 411.33v8.34M564.33 416.5h8.34M568.5 412.33v8.34M563.33 412.5h8.34M567.5 408.33v8.34M560.33 411.5h8.34M564.5 407.33v8.34M556.33 417.5h8.34M560.5 413.33v8.34M557.33 406.5h8.34M561.5 402.33v8.34M561.33 403.5h8.34M565.5 399.33v8.34M569.33 417.5h8.34M573.5 413.33v8.34M559.33 406.5h8.34M563.5 402.33v8.34M574.33 416.5h8.34M578.5 412.33v8.34M556.33 410.5h8.34M560.5 406.33v8.34M562.33 414.5h8.34M566.5 410.33v8.34M561.33 400.5h8.34M565.5 396.33v8.34M561.33 416.5h8.34M565.5 412.33v8.34M572.33 414.5h8.34M576.5 410.33v8.34M586.33 407.5h8.34M590.5 403.33v8.34M585.33 413.5h8.34M589.5 409.33v8.34M591.33 417.5h8.34M595.5 413.33v8.34M591.33 409.5h8.34M595.5 405.33v8.34M577.33 411.5h8.34M581.5 407.33v8.34M595.33 416.5h8.34M599.5 412.33v8.34M589.33 418.5h8.34M593.5 414.33v8.34M576.33 411.5h8.34M580.5 407.33v8.34M582.33 412.5h8.34M586.5 408.33v8.34M587.33 410.5h8.34M591.5 406.33v8.34M581.33 410.5h8.34M585.5 406.33v8.34M580.33 419.5h8.34M584.5 415.33v8.34M588.33 405.5h8.34M592.5 401.33v8.34M591.33 414.5h8.34M595.5 410.33v8.34M576.33 400.5h8.34M580.5 396.33v8.34M578.33 416.5h8.34M582.5 412.33v8.34M586.33 412.5h8.34M590.5 408.33v8.34M590.33 408.5h8.34M594.5 404.33v8.34M578.33 413.5h8.34M582.5 409.33v8.34M585.33 419.5h8.34M589.5 415.33v8.34M594.33 411.5h8.34M598.5 407.33v8.34M595.33 402.5h8.34M599.5 398.33v8.34M579.33 403.5h8.34M583.5 399.33v8.34M579.33 412.5h8.34M583.5 408.33v8.34M595.33 415.5h8.34M599.5 411.33v8.34M583.33 418.5h8.34M587.5 414.33v8.34M589.33 414.5h8.34M593.5 410.33v8.34M594.33 407.5h8.34M598.5 403.33v8.34M584.33 408.5h8.34M588.5 404.33v8.34M578.33 415.5h8.34M582.5 411.33v8.34M579.33 413.5h8.34M583.5 409.33v8.34M591.33 400.5h8.34M595.5 396.33v8.34M594.33 400.5h8.34M598.5 396.33v8.34M581.33 417.5h8.34M585.5 413.33v8.34M593.33 419.5h8.34M597.5 415.33v8.34M590.33 402.5h8.34M594.5 398.33v8.34M582.33 416.5h8.34M586.5 412.33v8.34M577.33 402.5h8.34M581.5 398.33v8.34M589.33 407.5h8.34M593.5 403.33v8.34M576.33 405.5h8.34M580.5 401.33v8.34M581.33 400.5h8.34M585.5 396.33v8.34M578.33 401.5h8.34M582.5 397.33v8.34M582.33 405.5h8.34M586.5 401.33v8.34M586.33 414.5h8.34M590.5 410.33v8.34M583.33 417.5h8.34M587.5 413.33v8.34M577.33 413.5h8.34M581.5 409.33v8.34M584.33 417.5h8.34M588.5 413.33v8.34M580.33 415.5h8.34M584.5 411.33v8.34M589.33 405.5h8.34M593.5 401.33v8.34M583.33 409.5h8.34M587.5 405.33v8.34M584.33 411.5h8.34M588.5 407.33v8.34M585.33 407.5h8.34M589.5 403.33v8.34M589.33 417.5h8.34M593.5 413.33v8.34M590.33 413.5h8.34M594.5 409.33v8.34M603.33 406.5h8.34M607.5 402.33v8.34M606.33 406.5h8.34M610.5 402.33v8.34M607.33 408.5h8.34M611.5 404.33v8.34M603.33 409.5h8.34M607.5 405.33v8.34M612.33 406.5h8.34M616.5 402.33v8.34M611.33 414.5h8.34M615.5 410.33v8.34M601.33 410.5h8.34M605.5 406.33v8.34M607.33 412.5h8.34M611.5 408.33v8.34M607.33 416.5h8.34M611.5 412.33v8.34M610.33 413.5h8.34M614.5 409.33v8.34M596.33 416.5h8.34M600.5 412.33v8.34M610.33 408.5h8.34M614.5 404.33v8.34M612.33 409.5h8.34M616.5 405.33v8.34M603.33 412.5h8.34M607.5 408.33v8.34M605.33 419.5h8.34M609.5 415.33v8.34M600.33 418.5h8.34M604.5 414.33v8.34M603.33 410.5h8.34M607.5 406.33v8.34M612.33 409.5h8.34M616.5 405.33v8.34M607.33 413.5h8.34M611.5 409.33v8.34M609.33 400.5h8.34M613.5 396.33v8.34M631.33 408.5h8.34M635.5 404.33v8.34M622.33 404.5h8.34M626.5 400.33v8.34M616.33 415.5h8.34M620.5 411.33v8.34M630.33 407.5h8.34M634.5 403.33v8.34M621.33 401.5h8.34M625.5 397.33v8.34M622.33 405.5h8.34M626.5 401.33v8.34M621.33 403.5h8.34M625.5 399.33v8.34M633.33 400.5h8.34M637.5 396.33v8.34M623.33 417.5h8.34M627.5 413.33v8.34M622.33 401.5h8.34M626.5 397.33v8.34M617.33 402.5h8.34M621.5 398.33v8.34M639.33 407.5h8.34M643.5 403.33v8.34M637.33 401.5h8.34M641.5 397.33v8.34M656.33 400.5h8.34M660.5 396.33v8.34M670.33 418.5h8.34M674.5 414.33v8.34M657.33 412.5h8.34M661.5 408.33v8.34M506.33 434.5h8.34M510.5 430.33v8.34M501.33 433.5h8.34M505.5 429.33v8.34M506.33 438.5h8.34M510.5 434.33v8.34M517.33 426.5h8.34M521.5 422.33v8.34M530.33 426.5h8.34M534.5 422.33v8.34M516.33 422.5h8.34M520.5 418.33v8.34M522.33 421.5h8.34M526.5 417.33v8.34M534.33 424.5h8.34M538.5 420.33v8.34M533.33 437.5h8.34M537.5 433.33v8.34M522.33 426.5h8.34M526.5 422.33v8.34M517.33 424.5h8.34M521.5 420.33v8.34M552.33 436.5h8.34M556.5 432.33v8.34M545.33 438.5h8.34M549.5 434.33v8.34M550.33 429.5h8.34M554.5 425.33v8.34M551.33 429.5h8.34M555.5 425.33v8.34M552.33 436.5h8.34M556.5 432.33v8.34M553.33 433.5h8.34M557.5 429.33v8.34M550.33 431.5h8.34M554.5 427.33v8.34M539.33 439.5h8.34M543.5 435.33v8.34M537.33 423.5h8.34M541.5 419.33v8.34M543.33 426.5h8.34M547.5 422.33v8.34M542.33 431.5h8.34M546.5 427.33v8.34M547.33 420.5h8.34M551.5 416.33v8.34M555.33 435.5h8.34M559.5 431.33v8.34M536.33 427.5h8.34M540.5 423.33v8.34M549.33 432.5h8.34M553.5 428.33v8.34M555.33 439.5h8.34M559.5 435.33v8.34M546.33 437.5h8.34M550.5 433.33v8.34M551.33 422.5h8.34M555.5 418.33v8.34M551.33 423.5h8.34M555.5 419.33v8.34M537.33 436.5h8.34M541.5 432.33v8.34M549.33 436.5h8.34M553.5 432.33v8.34M537.33 429.5h8.34M541.5 425.33v8.34M538.33 438.5h8.34M542.5 434.33v8.34M542.33 436.5h8.34M546.5 432.33v8.34M547.33 436.5h8.34M551.5 432.33v8.34M550.33 424.5h8.34M554.5 420.33v8.34M555.33 426.5h8.34M559.5 422.33v8.34M542.33 429.5h8.34M546.5 425.33v8.34M547.33 426.5h8.34M551.5 422.33v8.34M539.33 429.5h8.34M543.5 425.33v8.34M538.33 437.5h8.34M542.5 433.33v8.34M543.33 429.5h8.34M547.5 425.33v8.34M545.33 431.5h8.34M549.5 427.33v8.34M549.33 424.5h8.34M553.5 420.33v8.34M540.33 435.5h8.34M544.5 431.33v8.34M550.33 438.5h8.34M554.5 434.33v8.34M548.33 423.5h8.34M552.5 419.33v8.34M553.33 428.5h8.34M557.5 424.33v8.34M560.33 429.5h8.34M564.5 425.33v8.34M559.33 427.5h8.34M563.5 423.33v8.34M557.33 432.5h8.34M561.5 428.33v8.34M573.33 437.5h8.34M577.5 433.33v8.34M572.33 437.5h8.34M576.5 433.33v8.34M575.33 437.5h8.34M579.5 433.33v8.34M562.33 429.5h8.34M566.5 425.33v8.34M565.33 423.5h8.34M569.5 419.33v8.34M556.33 436.5h8.34M560.5 432.33v8.34M561.33 438.5h8.34M565.5 434.33v8.34M558.33 433.5h8.34M562.5 429.33v8.34M561.33 424.5h8.34M565.5 420.33v8.34M570.33 434.5h8.34M574.5 430.33v8.34M567.33 429.5h8.34M571.5 425.33v8.34M574.33 431.5h8.34M578.5 427.33v8.34M569.33 435.5h8.34M573.5 431.33v8.34M565.33 423.5h8.34M569.5 419.33v8.34M568.33 433.5h8.34M572.5 429.33v8.34M562.33 424.5h8.34M566.5 420.33v8.34M572.33 439.5h8.34M576.5 435.33v8.34M556.33 424.5h8.34M560.5 420.33v8.34M574.33 431.5h8.34M578.5 427.33v8.34M563.33 428.5h8.34M567.5 424.33v8.34M562.33 433.5h8.34M566.5 429.33v8.34M556.33 438.5h8.34M560.5 434.33v8.34M559.33 435.5h8.34M563.5 431.33v8.34M565.33 438.5h8.34M569.5 434.33v8.34M560.33 425.5h8.34M564.5 421.33v8.34M572.33 433.5h8.34M576.5 429.33v8.34M566.33 434.5h8.34M570.5 430.33v8.34M571.33 429.5h8.34M575.5 425.33v8.34M557.33 438.5h8.34M561.5 434.33v8.34M561.33 420.5h8.34M565.5 416.33v8.34M574.33 437.5h8.34M578.5 433.33v8.34M566.33 434.5h8.34M570.5 430.33v8.34M563.33 422.5h8.34M567.5 418.33v8.34M566.33 435.5h8.34M570.5 431.33v8.34M559.33 428.5h8.34M563.5 424.33v8.34M571.33 420.5h8.34M575.5 416.33v8.34M568.33 426.5h8.34M572.5 422.33v8.34M571.33 425.5h8.34M575.5 421.33v8.34M564.33 431.5h8.34M568.5 427.33v8.34M565.33 422.5h8.34M569.5 418.33v8.34M560.33 430.5h8.34M564.5 426.33v8.34M558.33 422.5h8.34M562.5 418.33v8.34M569.33 422.5h8.34M573.5 418.33v8.34M566.33 434.5h8.34M570.5 430.33v8.34M561.33 425.5h8.34M565.5 421.33v8.34M558.33 422.5h8.34M562.5 418.33v8.34M560.33 429.5h8.34M564.5 425.33v8.34M571.33 435.5h8.34M575.5 431.33v8.34M559.33 437.5h8.34M563.5 433.33v8.34M566.33 432.5h8.34M570.5 428.33v8.34M562.33 425.5h8.34M566.5 421.33v8.34M561.33 435.5h8.34M565.5 431.33v8.34M567.33 435.5h8.34M571.5 431.33v8.34M562.33 433.5h8.34M566.5 429.33v8.34M566.33 437.5h8.34M570.5 433.33v8.34M567.33 422.5h8.34M571.5 418.33v8.34M559.33 420.5h8.34M563.5 416.33v8.34M564.33 439.5h8.34M568.5 435.33v8.34M558.33 422.5h8.34M562.5 418.33v8.34M569.33 423.5h8.34M573.5 419.33v8.34M560.33 429.5h8.34M564.5 425.33v8.34M569.33 430.5h8.34M573.5 426.33v8.34M557.33 435.5h8.34M561.5 431.33v8.34M573.33 435.5h8.34M577.5 431.33v8.34M571.33 438.5h8.34M575.5 434.33v8.34M574.33 437.5h8.34M578.5 433.33v8.34M563.33 425.5h8.34M567.5 421.33v8.34M571.33 429.5h8.34M575.5 425.33v8.34M573.33 422.5h8.34M577.5 418.33v8.34M556.33 434.5h8.34M560.5 430.33v8.34M561.33 439.5h8.34M565.5 435.33v8.34M570.33 421.5h8.34M574.5 417.33v8.34M571.33 439.5h8.34M575.5 435.33v8.34M561.33 433.5h8.34M565.5 429.33v8.34M572.33 431.5h8.34M576.5 427.33v8.34M561.33 425.5h8.34M565.5 421.33v8.34M572.33 429.5h8.34M576.5 425.33v8.34M589.33 423.5h8.34M593.5 419.33v8.34M581.33 434.5h8.34M585.5 430.33v8.34M591.33 435.5h8.34M595.5 431.33v8.34M582.33 429.5h8.34M586.5 425.33v8.34M595.33 438.5h8.34M599.5 434.33v8.34M591.33 430.5h8.34M595.5 426.33v8.34M584.33 433.5h8.34M588.5 429.33v8.34M584.33 438.5h8.34M588.5 434.33v8.34M590.33 433.5h8.34M594.5 429.33v8.34M579.33 421.5h8.34M583.5 417.33v8.34M583.33 435.5h8.34M587.5 431.33v8.34M583.33 432.5h8.34M587.5 428.33v8.34M594.33 428.5h8.34M598.5 424.33v8.34M581.33 433.5h8.34M585.5 429.33v8.34M580.33 434.5h8.34M584.5 430.33v8.34M578.33 426.5h8.34M582.5 422.33v8.34M579.33 425.5h8.34M583.5 421.33v8.34M585.33 437.5h8.34M589.5 433.33v8.34M587.33 432.5h8.34M591.5 428.33v8.34M578.33 431.5h8.34M582.5 427.33v8.34M588.33 420.5h8.34M592.5 416.33v8.34M595.33 424.5h8.34M599.5 420.33v8.34M591.33 426.5h8.34M595.5 422.33v8.34M576.33 438.5h8.34M580.5 434.33v8.34M586.33 432.5h8.34M590.5 428.33v8.34M593.33 422.5h8.34M597.5 418.33v8.34M583.33 435.5h8.34M587.5 431.33v8.34M595.33 426.5h8.34M599.5 422.33v8.34M587.33 428.5h8.34M591.5 424.33v8.34M581.33 430.5h8.34M585.5 426.33v8.34M577.33 434.5h8.34M581.5 430.33v8.34M586.33 424.5h8.34M590.5 420.33v8.34M595.33 437.5h8.34M599.5 433.33v8.34M594.33 426.5h8.34M598.5 422.33v8.34M594.33 439.5h8.34M598.5 435.33v8.34M587.33 426.5h8.34M591.5 422.33v8.34M579.33 434.5h8.34M583.5 430.33v8.34M594.33 421.5h8.34M598.5 417.33v8.34M579.33 428.5h8.34M583.5 424.33v8.34M594.33 436.5h8.34M598.5 432.33v8.34M591.33 436.5h8.34M595.5 432.33v8.34M584.33 430.5h8.34M588.5 426.33v8.34M587.33 437.5h8.34M591.5 433.33v8.34M595.33 428.5h8.34M599.5 424.33v8.34M581.33 423.5h8.34M585.5 419.33v8.34M580.33 422.5h8.34M584.5 418.33v8.34M583.33 420.5h8.34M587.5 416.33v8.34M589.33 427.5h8.34M593.5 423.33v8.34M588.33 422.5h8.34M592.5 418.33v8.34M588.33 437.5h8.34M592.5 433.33v8.34M595.33 420.5h8.34M599.5 416.33v8.34M593.33 422.5h8.34M597.5 418.33v8.34M589.33 427.5h8.34M593.5 423.33v8.34M579.33 435.5h8.34M583.5 431.33v8.34M595.33 426.5h8.34M599.5 422.33v8.34M577.33 438.5h8.34M581.5 434.33v8.34M585.33 432.5h8.34M589.5 428.33v8.34M595.33 437.5h8.34M599.5 433.33v8.34M577.33 428.5h8.34M581.5 424.33v8.34M578.33 436.5h8.34M582.5 432.33v8.34M581.33 425.5h8.34M585.5 421.33v8.34M584.33 422.5h8.34M588.5 418.33v8.34M585.33 426.5h8.34M589.5 422.33v8.34M581.33 439.5h8.34M585.5 435.33v8.34M579.33 435.5h8.34M583.5 431.33v8.34M581.33 423.5h8.34M585.5 419.33v8.34M590.33 426.5h8.34M594.5 422.33v8.34M577.33 422.5h8.34M581.5 418.33v8.34M603.33 429.5h8.34M607.5 425.33v8.34M603.33 439.5h8.34M607.5 435.33v8.34M606.33 425.5h8.34M610.5 421.33v8.34M599.33 420.5h8.34M603.5 416.33v8.34M612.33 436.5h8.34M616.5 432.33v8.34M597.33 430.5h8.34M601.5 426.33v8.34M611.33 428.5h8.34M615.5 424.33v8.34M602.33 432.5h8.34M606.5 428.33v8.34M614.33 434.5h8.34M618.5 430.33v8.34M607.33 423.5h8.34M611.5 419.33v8.34M600.33 437.5h8.34M604.5 433.33v8.34M609.33 430.5h8.34M613.5 426.33v8.34M612.33 420.5h8.34M616.5 416.33v8.34M604.33 430.5h8.34M608.5 426.33v8.34M603.33 437.5h8.34M607.5 433.33v8.34M600.33 438.5h8.34M604.5 434.33v8.34M610.33 428.5h8.34M614.5 424.33v8.34M596.33 434.5h8.34M600.5 430.33v8.34M613.33 428.5h8.34M617.5 424.33v8.34M612.33 429.5h8.34M616.5 425.33v8.34M610.33 426.5h8.34M614.5 422.33v8.34M606.33 423.5h8.34M610.5 419.33v8.34M613.33 420.5h8.34M617.5 416.33v8.34M602.33 428.5h8.34M606.5 424.33v8.34M609.33 437.5h8.34M613.5 433.33v8.34M610.33 433.5h8.34M614.5 429.33v8.34M601.33 422.5h8.34M605.5 418.33v8.34M606.33 421.5h8.34M610.5 417.33v8.34M611.33 435.5h8.34M615.5 431.33v8.34M599.33 422.5h8.34M603.5 418.33v8.34M600.33 428.5h8.34M604.5 424.33v8.34M605.33 425.5h8.34M609.5 421.33v8.34M612.33 429.5h8.34M616.5 425.33v8.34M604.33 434.5h8.34M608.5 430.33v8.34M602.33 428.5h8.34M606.5 424.33v8.34M607.33 427.5h8.34M611.5 423.33v8.34M606.33 420.5h8.34M610.5 416.33v8.34M612.33 432.5h8.34M616.5 428.33v8.34M606.33 432.5h8.34M610.5 428.33v8.34M609.33 429.5h8.34M613.5 425.33v8.34M598.33 428.5h8.34M602.5 424.33v8.34M601.33 428.5h8.34M605.5 424.33v8.34M598.33 420.5h8.34M602.5 416.33v8.34M603.33 435.5h8.34M607.5 431.33v8.34M623.33 437.5h8.34M627.5 433.33v8.34M627.33 420.5h8.34M631.5 416.33v8.34M631.33 438.5h8.34M635.5 434.33v8.34M632.33 427.5h8.34M636.5 423.33v8.34M617.33 436.5h8.34M621.5 432.33v8.34M622.33 436.5h8.34M626.5 432.33v8.34M616.33 437.5h8.34M620.5 433.33v8.34M625.33 424.5h8.34M629.5 420.33v8.34M621.33 439.5h8.34M625.5 435.33v8.34M625.33 439.5h8.34M629.5 435.33v8.34M628.33 436.5h8.34M632.5 432.33v8.34M632.33 428.5h8.34M636.5 424.33v8.34M627.33 429.5h8.34M631.5 425.33v8.34M616.33 428.5h8.34M620.5 424.33v8.34M633.33 426.5h8.34M637.5 422.33v8.34M620.33 427.5h8.34M624.5 423.33v8.34M631.33 433.5h8.34M635.5 429.33v8.34M628.33 436.5h8.34M632.5 432.33v8.34M634.33 423.5h8.34M638.5 419.33v8.34M618.33 430.5h8.34M622.5 426.33v8.34M617.33 429.5h8.34M621.5 425.33v8.34M626.33 435.5h8.34M630.5 431.33v8.34M621.33 432.5h8.34M625.5 428.33v8.34M628.33 433.5h8.34M632.5 429.33v8.34M617.33 424.5h8.34M621.5 420.33v8.34M616.33 432.5h8.34M620.5 428.33v8.34M642.33 428.5h8.34M646.5 424.33v8.34M654.33 435.5h8.34M658.5 431.33v8.34M643.33 438.5h8.34M647.5 434.33v8.34M638.33 439.5h8.34M642.5 435.33v8.34M654.33 437.5h8.34M658.5 433.33v8.34M641.33 426.5h8.34M645.5 422.33v8.34M650.33 436.5h8.34M654.5 432.33v8.34M638.33 435.5h8.34M642.5 431.33v8.34M653.33 428.5h8.34M657.5 424.33v8.34M637.33 429.5h8.34M641.5 425.33v8.34M650.33 438.5h8.34M654.5 434.33v8.34M638.33 428.5h8.34M642.5 424.33v8.34M645.33 421.5h8.34M649.5 417.33v8.34M637.33 432.5h8.34M641.5 428.33v8.34M650.33 439.5h8.34M654.5 435.33v8.34M665.33 439.5h8.34M669.5 435.33v8.34M671.33 436.5h8.34M675.5 432.33v8.34M674.33 432.5h8.34M678.5 428.33v8.34M660.33 434.5h8.34M664.5 430.33v8.34M663.33 421.5h8.34M667.5 417.33v8.34M665.33 424.5h8.34M669.5 420.33v8.34M664.33 435.5h8.34M668.5 431.33v8.34M691.33 423.5h8.34M695.5 419.33v8.34M676.33 436.5h8.34M680.5 432.33v8.34M685.33 423.5h8.34M689.5 419.33v8.34M704.33 436.5h8.34M708.5 432.33v8.34M715.33 434.5h8.34M719.5 430.33v8.34M697.33 429.5h8.34M701.5 425.33v8.34M509.33 442.5h8.34M513.5 438.33v8.34M506.33 450.5h8.34M510.5 446.33v8.34M509.33 443.5h8.34M513.5 439.33v8.34M512.33 450.5h8.34M516.5 446.33v8.34M510.33 444.5h8.34M514.5 440.33v8.34M530.33 449.5h8.34M534.5 445.33v8.34M533.33 451.5h8.34M537.5 447.33v8.34M518.33 453.5h8.34M522.5 449.33v8.34M522.33 441.5h8.34M526.5 437.33v8.34M533.33 451.5h8.34M537.5 447.33v8.34M530.33 445.5h8.34M534.5 441.33v8.34M547.33 444.5h8.34M551.5 440.33v8.34M538.33 442.5h8.34M542.5 438.33v8.34M543.33 440.5h8.34M547.5 436.33v8.34M540.33 453.5h8.34M544.5 449.33v8.34M542.33 442.5h8.34M546.5 438.33v8.34M540.33 450.5h8.34M544.5 446.33v8.34M538.33 444.5h8.34M542.5 440.33v8.34M549.33 446.5h8.34M553.5 442.33v8.34M548.33 444.5h8.34M552.5 440.33v8.34M552.33 450.5h8.34M556.5 446.33v8.34M546.33 457.5h8.34M550.5 453.33v8.34M551.33 444.5h8.34M555.5 440.33v8.34M555.33 442.5h8.34M559.5 438.33v8.34M536.33 450.5h8.34M540.5 446.33v8.34M551.33 441.5h8.34M555.5 437.33v8.34M540.33 442.5h8.34M544.5 438.33v8.34M538.33 458.5h8.34M542.5 454.33v8.34M542.33 448.5h8.34M546.5 444.33v8.34M547.33 447.5h8.34M551.5 443.33v8.34M551.33 446.5h8.34M555.5 442.33v8.34M550.33 457.5h8.34M554.5 453.33v8.34M547.33 458.5h8.34M551.5 454.33v8.34M547.33 447.5h8.34M551.5 443.33v8.34M550.33 449.5h8.34M554.5 445.33v8.34M551.33 452.5h8.34M555.5 448.33v8.34M544.33 445.5h8.34M548.5 441.33v8.34M544.33 448.5h8.34M548.5 444.33v8.34M555.33 458.5h8.34M559.5 454.33v8.34M550.33 453.5h8.34M554.5 449.33v8.34M551.33 457.5h8.34M555.5 453.33v8.34M548.33 455.5h8.34M552.5 451.33v8.34M544.33 440.5h8.34M548.5 436.33v8.34M550.33 450.5h8.34M554.5 446.33v8.34M538.33 443.5h8.34M542.5 439.33v8.34M568.33 459.5h8.34M572.5 455.33v8.34M568.33 454.5h8.34M572.5 450.33v8.34M557.33 441.5h8.34M561.5 437.33v8.34M562.33 451.5h8.34M566.5 447.33v8.34M565.33 451.5h8.34M569.5 447.33v8.34M563.33 443.5h8.34M567.5 439.33v8.34M566.33 447.5h8.34M570.5 443.33v8.34M559.33 447.5h8.34M563.5 443.33v8.34M568.33 453.5h8.34M572.5 449.33v8.34M568.33 445.5h8.34M572.5 441.33v8.34M560.33 444.5h8.34M564.5 440.33v8.34M572.33 448.5h8.34M576.5 444.33v8.34M575.33 442.5h8.34M579.5 438.33v8.34M559.33 450.5h8.34M563.5 446.33v8.34M572.33 453.5h8.34M576.5 449.33v8.34M558.33 459.5h8.34M562.5 455.33v8.34M563.33 443.5h8.34M567.5 439.33v8.34M570.33 447.5h8.34M574.5 443.33v8.34M564.33 440.5h8.34M568.5 436.33v8.34M572.33 449.5h8.34M576.5 445.33v8.34M568.33 441.5h8.34M572.5 437.33v8.34M560.33 446.5h8.34M564.5 442.33v8.34M569.33 455.5h8.34M573.5 451.33v8.34M566.33 445.5h8.34M570.5 441.33v8.34M561.33 444.5h8.34M565.5 440.33v8.34M564.33 443.5h8.34M568.5 439.33v8.34M571.33 453.5h8.34M575.5 449.33v8.34M570.33 448.5h8.34M574.5 444.33v8.34M564.33 450.5h8.34M568.5 446.33v8.34M569.33 448.5h8.34M573.5 444.33v8.34M574.33 441.5h8.34M578.5 437.33v8.34M557.33 454.5h8.34M561.5 450.33v8.34M567.33 448.5h8.34M571.5 444.33v8.34M559.33 456.5h8.34M563.5 452.33v8.34M568.33 446.5h8.34M572.5 442.33v8.34M563.33 445.5h8.34M567.5 441.33v8.34M564.33 440.5h8.34M568.5 436.33v8.34M565.33 441.5h8.34M569.5 437.33v8.34M560.33 454.5h8.34M564.5 450.33v8.34M557.33 459.5h8.34M561.5 455.33v8.34M567.33 445.5h8.34M571.5 441.33v8.34M565.33 459.5h8.34M569.5 455.33v8.34M573.33 455.5h8.34M577.5 451.33v8.34M561.33 456.5h8.34M565.5 452.33v8.34M563.33 446.5h8.34M567.5 442.33v8.34M575.33 458.5h8.34M579.5 454.33v8.34M568.33 456.5h8.34M572.5 452.33v8.34M559.33 448.5h8.34M563.5 444.33v8.34M571.33 450.5h8.34M575.5 446.33v8.34M567.33 440.5h8.34M571.5 436.33v8.34M567.33 457.5h8.34M571.5 453.33v8.34M569.33 449.5h8.34M573.5 445.33v8.34M571.33 454.5h8.34M575.5 450.33v8.34M569.33 442.5h8.34M573.5 438.33v8.34M573.33 456.5h8.34M577.5 452.33v8.34M559.33 455.5h8.34M563.5 451.33v8.34M565.33 454.5h8.34M569.5 450.33v8.34M560.33 443.5h8.34M564.5 439.33v8.34M565.33 450.5h8.34M569.5 446.33v8.34M566.33 450.5h8.34M570.5 446.33v8.34M563.33 442.5h8.34M567.5 438.33v8.34M575.33 456.5h8.34M579.5 452.33v8.34M563.33 457.5h8.34M567.5 453.33v8.34M573.33 450.5h8.34M577.5 446.33v8.34M558.33 441.5h8.34M562.5 437.33v8.34M571.33 454.5h8.34M575.5 450.33v8.34M562.33 446.5h8.34M566.5 442.33v8.34M559.33 444.5h8.34M563.5 440.33v8.34M557.33 454.5h8.34M561.5 450.33v8.34M560.33 459.5h8.34M564.5 455.33v8.34M557.33 450.5h8.34M561.5 446.33v8.34M565.33 457.5h8.34M569.5 453.33v8.34M572.33 451.5h8.34M576.5 447.33v8.34M557.33 458.5h8.34M561.5 454.33v8.34M572.33 447.5h8.34M576.5 443.33v8.34M557.33 453.5h8.34M561.5 449.33v8.34M562.33 448.5h8.34M566.5 444.33v8.34M570.33 457.5h8.34M574.5 453.33v8.34M573.33 454.5h8.34M577.5 450.33v8.34M571.33 449.5h8.34M575.5 445.33v8.34M575.33 440.5h8.34M579.5 436.33v8.34M567.33 451.5h8.34M571.5 447.33v8.34M575.33 451.5h8.34M579.5 447.33v8.34M572.33 450.5h8.34M576.5 446.33v8.34M571.33 449.5h8.34M575.5 445.33v8.34M593.33 456.5h8.34M597.5 452.33v8.34M585.33 442.5h8.34M589.5 438.33v8.34M576.33 459.5h8.34M580.5 455.33v8.34M594.33 448.5h8.34M598.5 444.33v8.34M580.33 456.5h8.34M584.5 452.33v8.34M587.33 452.5h8.34M591.5 448.33v8.34M582.33 455.5h8.34M586.5 451.33v8.34M589.33 458.5h8.34M593.5 454.33v8.34M582.33 441.5h8.34M586.5 437.33v8.34M576.33 441.5h8.34M580.5 437.33v8.34M579.33 457.5h8.34M583.5 453.33v8.34M576.33 441.5h8.34M580.5 437.33v8.34M589.33 448.5h8.34M593.5 444.33v8.34M579.33 443.5h8.34M583.5 439.33v8.34M587.33 450.5h8.34M591.5 446.33v8.34M594.33 455.5h8.34M598.5 451.33v8.34M583.33 457.5h8.34M587.5 453.33v8.34M577.33 455.5h8.34M581.5 451.33v8.34M589.33 455.5h8.34M593.5 451.33v8.34M587.33 443.5h8.34M591.5 439.33v8.34M583.33 448.5h8.34M587.5 444.33v8.34M595.33 441.5h8.34M599.5 437.33v8.34M589.33 450.5h8.34M593.5 446.33v8.34M594.33 446.5h8.34M598.5 442.33v8.34M593.33 455.5h8.34M597.5 451.33v8.34M587.33 450.5h8.34M591.5 446.33v8.34M581.33 440.5h8.34M585.5 436.33v8.34M579.33 443.5h8.34M583.5 439.33v8.34M578.33 458.5h8.34M582.5 454.33v8.34M594.33 445.5h8.34M598.5 441.33v8.34M578.33 453.5h8.34M582.5 449.33v8.34M586.33 455.5h8.34M590.5 451.33v8.34M585.33 448.5h8.34M589.5 444.33v8.34M582.33 450.5h8.34M586.5 446.33v8.34M581.33 454.5h8.34M585.5 450.33v8.34M587.33 453.5h8.34M591.5 449.33v8.34M592.33 442.5h8.34M596.5 438.33v8.34M586.33 455.5h8.34M590.5 451.33v8.34M592.33 452.5h8.34M596.5 448.33v8.34M583.33 441.5h8.34M587.5 437.33v8.34M595.33 446.5h8.34M599.5 442.33v8.34M581.33 444.5h8.34M585.5 440.33v8.34M592.33 446.5h8.34M596.5 442.33v8.34M587.33 454.5h8.34M591.5 450.33v8.34M593.33 459.5h8.34M597.5 455.33v8.34M577.33 448.5h8.34M581.5 444.33v8.34M593.33 459.5h8.34M597.5 455.33v8.34M592.33 457.5h8.34M596.5 453.33v8.34M582.33 456.5h8.34M586.5 452.33v8.34M584.33 455.5h8.34M588.5 451.33v8.34M582.33 452.5h8.34M586.5 448.33v8.34M589.33 443.5h8.34M593.5 439.33v8.34M587.33 451.5h8.34M591.5 447.33v8.34M587.33 451.5h8.34M591.5 447.33v8.34M595.33 453.5h8.34M599.5 449.33v8.34M593.33 448.5h8.34M597.5 444.33v8.34M576.33 457.5h8.34M580.5 453.33v8.34M588.33 453.5h8.34M592.5 449.33v8.34M594.33 449.5h8.34M598.5 445.33v8.34M586.33 444.5h8.34M590.5 440.33v8.34M578.33 459.5h8.34M582.5 455.33v8.34M592.33 454.5h8.34M596.5 450.33v8.34M589.33 459.5h8.34M593.5 455.33v8.34M587.33 447.5h8.34M591.5 443.33v8.34M584.33 443.5h8.34M588.5 439.33v8.34M590.33 451.5h8.34M594.5 447.33v8.34M594.33 446.5h8.34M598.5 442.33v8.34M592.33 444.5h8.34M596.5 440.33v8.34M582.33 449.5h8.34M586.5 445.33v8.34M579.33 450.5h8.34M583.5 446.33v8.34M595.33 452.5h8.34M599.5 448.33v8.34M594.33 441.5h8.34M598.5 437.33v8.34M582.33 444.5h8.34M586.5 440.33v8.34M576.33 440.5h8.34M580.5 436.33v8.34M582.33 458.5h8.34M586.5 454.33v8.34M592.33 447.5h8.34M596.5 443.33v8.34M582.33 457.5h8.34M586.5 453.33v8.34M584.33 454.5h8.34M588.5 450.33v8.34M581.33 448.5h8.34M585.5 444.33v8.34M577.33 453.5h8.34M581.5 449.33v8.34M594.33 457.5h8.34M598.5 453.33v8.34M593.33 459.5h8.34M597.5 455.33v8.34M579.33 457.5h8.34M583.5 453.33v8.34M591.33 441.5h8.34M595.5 437.33v8.34M579.33 440.5h8.34M583.5 436.33v8.34M606.33 454.5h8.34M610.5 450.33v8.34M598.33 444.5h8.34M602.5 440.33v8.34M597.33 442.5h8.34M601.5 438.33v8.34M610.33 451.5h8.34M614.5 447.33v8.34M599.33 448.5h8.34M603.5 444.33v8.34M597.33 441.5h8.34M601.5 437.33v8.34M600.33 446.5h8.34M604.5 442.33v8.34M601.33 455.5h8.34M605.5 451.33v8.34M607.33 450.5h8.34M611.5 446.33v8.34M603.33 457.5h8.34M607.5 453.33v8.34M605.33 454.5h8.34M609.5 450.33v8.34M601.33 443.5h8.34M605.5 439.33v8.34M604.33 449.5h8.34M608.5 445.33v8.34M600.33 445.5h8.34M604.5 441.33v8.34M607.33 449.5h8.34M611.5 445.33v8.34M614.33 458.5h8.34M618.5 454.33v8.34M610.33 447.5h8.34M614.5 443.33v8.34M602.33 450.5h8.34M606.5 446.33v8.34M605.33 443.5h8.34M609.5 439.33v8.34M607.33 450.5h8.34M611.5 446.33v8.34M601.33 445.5h8.34M605.5 441.33v8.34M600.33 455.5h8.34M604.5 451.33v8.34M604.33 456.5h8.34M608.5 452.33v8.34M601.33 457.5h8.34M605.5 453.33v8.34M596.33 443.5h8.34M600.5 439.33v8.34M606.33 442.5h8.34M610.5 438.33v8.34M598.33 443.5h8.34M602.5 439.33v8.34M610.33 442.5h8.34M614.5 438.33v8.34M611.33 459.5h8.34M615.5 455.33v8.34M611.33 445.5h8.34M615.5 441.33v8.34M599.33 458.5h8.34M603.5 454.33v8.34M612.33 452.5h8.34M616.5 448.33v8.34M601.33 448.5h8.34M605.5 444.33v8.34M603.33 459.5h8.34M607.5 455.33v8.34M608.33 447.5h8.34M612.5 443.33v8.34M603.33 458.5h8.34M607.5 454.33v8.34M598.33 459.5h8.34M602.5 455.33v8.34M612.33 457.5h8.34M616.5 453.33v8.34M606.33 455.5h8.34M610.5 451.33v8.34M615.33 459.5h8.34M619.5 455.33v8.34M598.33 451.5h8.34M602.5 447.33v8.34M603.33 441.5h8.34M607.5 437.33v8.34M600.33 453.5h8.34M604.5 449.33v8.34M605.33 453.5h8.34M609.5 449.33v8.34M610.33 457.5h8.34M614.5 453.33v8.34M604.33 456.5h8.34M608.5 452.33v8.34M602.33 446.5h8.34M606.5 442.33v8.34M613.33 455.5h8.34M617.5 451.33v8.34M607.33 448.5h8.34M611.5 444.33v8.34M611.33 442.5h8.34M615.5 438.33v8.34M606.33 448.5h8.34M610.5 444.33v8.34M614.33 455.5h8.34M618.5 451.33v8.34M610.33 451.5h8.34M614.5 447.33v8.34M600.33 446.5h8.34M604.5 442.33v8.34M610.33 441.5h8.34M614.5 437.33v8.34M606.33 450.5h8.34M610.5 446.33v8.34M614.33 449.5h8.34M618.5 445.33v8.34M601.33 449.5h8.34M605.5 445.33v8.34M598.33 457.5h8.34M602.5 453.33v8.34M597.33 455.5h8.34M601.5 451.33v8.34M599.33 442.5h8.34M603.5 438.33v8.34M608.33 445.5h8.34M612.5 441.33v8.34M610.33 449.5h8.34M614.5 445.33v8.34M597.33 446.5h8.34M601.5 442.33v8.34M610.33 453.5h8.34M614.5 449.33v8.34M614.33 452.5h8.34M618.5 448.33v8.34M623.33 449.5h8.34M627.5 445.33v8.34M619.33 446.5h8.34M623.5 442.33v8.34M619.33 445.5h8.34M623.5 441.33v8.34M635.33 459.5h8.34M639.5 455.33v8.34M629.33 458.5h8.34M633.5 454.33v8.34M635.33 450.5h8.34M639.5 446.33v8.34M617.33 440.5h8.34M621.5 436.33v8.34M630.33 452.5h8.34M634.5 448.33v8.34M618.33 451.5h8.34M622.5 447.33v8.34M633.33 455.5h8.34M637.5 451.33v8.34M633.33 448.5h8.34M637.5 444.33v8.34M616.33 448.5h8.34M620.5 444.33v8.34M617.33 453.5h8.34M621.5 449.33v8.34M629.33 453.5h8.34M633.5 449.33v8.34M626.33 441.5h8.34M630.5 437.33v8.34M626.33 457.5h8.34M630.5 453.33v8.34M629.33 440.5h8.34M633.5 436.33v8.34M623.33 448.5h8.34M627.5 444.33v8.34M632.33 457.5h8.34M636.5 453.33v8.34M626.33 455.5h8.34M630.5 451.33v8.34M626.33 444.5h8.34M630.5 440.33v8.34M626.33 446.5h8.34M630.5 442.33v8.34M630.33 443.5h8.34M634.5 439.33v8.34M634.33 443.5h8.34M638.5 439.33v8.34M633.33 450.5h8.34M637.5 446.33v8.34M635.33 440.5h8.34M639.5 436.33v8.34M629.33 442.5h8.34M633.5 438.33v8.34M618.33 443.5h8.34M622.5 439.33v8.34M625.33 451.5h8.34M629.5 447.33v8.34M625.33 453.5h8.34M629.5 449.33v8.34M634.33 458.5h8.34M638.5 454.33v8.34M617.33 458.5h8.34M621.5 454.33v8.34M629.33 459.5h8.34M633.5 455.33v8.34M632.33 440.5h8.34M636.5 436.33v8.34M631.33 440.5h8.34M635.5 436.33v8.34M621.33 452.5h8.34M625.5 448.33v8.34M621.33 446.5h8.34M625.5 442.33v8.34M623.33 449.5h8.34M627.5 445.33v8.34M629.33 458.5h8.34M633.5 454.33v8.34M622.33 459.5h8.34M626.5 455.33v8.34M621.33 450.5h8.34M625.5 446.33v8.34M627.33 440.5h8.34M631.5 436.33v8.34M633.33 446.5h8.34M637.5 442.33v8.34M630.33 459.5h8.34M634.5 455.33v8.34M633.33 452.5h8.34M637.5 448.33v8.34M628.33 445.5h8.34M632.5 441.33v8.34M616.33 452.5h8.34M620.5 448.33v8.34M630.33 454.5h8.34M634.5 450.33v8.34M619.33 457.5h8.34M623.5 453.33v8.34M621.33 447.5h8.34M625.5 443.33v8.34M655.33 447.5h8.34M659.5 443.33v8.34M651.33 450.5h8.34M655.5 446.33v8.34M653.33 452.5h8.34M657.5 448.33v8.34M653.33 459.5h8.34M657.5 455.33v8.34M648.33 452.5h8.34M652.5 448.33v8.34M638.33 441.5h8.34M642.5 437.33v8.34M655.33 453.5h8.34M659.5 449.33v8.34M636.33 440.5h8.34M640.5 436.33v8.34M637.33 447.5h8.34M641.5 443.33v8.34M649.33 445.5h8.34M653.5 441.33v8.34M638.33 456.5h8.34M642.5 452.33v8.34M648.33 456.5h8.34M652.5 452.33v8.34M640.33 453.5h8.34M644.5 449.33v8.34M640.33 444.5h8.34M644.5 440.33v8.34M653.33 447.5h8.34M657.5 443.33v8.34M653.33 455.5h8.34M657.5 451.33v8.34M652.33 459.5h8.34M656.5 455.33v8.34M643.33 449.5h8.34M647.5 445.33v8.34M654.33 449.5h8.34M658.5 445.33v8.34M643.33 450.5h8.34M647.5 446.33v8.34M648.33 444.5h8.34M652.5 440.33v8.34M647.33 455.5h8.34M651.5 451.33v8.34M637.33 447.5h8.34M641.5 443.33v8.34M645.33 441.5h8.34M649.5 437.33v8.34M643.33 453.5h8.34M647.5 449.33v8.34M648.33 454.5h8.34M652.5 450.33v8.34M652.33 448.5h8.34M656.5 444.33v8.34M654.33 441.5h8.34M658.5 437.33v8.34M646.33 459.5h8.34M650.5 455.33v8.34M653.33 454.5h8.34M657.5 450.33v8.34M649.33 457.5h8.34M653.5 453.33v8.34M644.33 451.5h8.34M648.5 447.33v8.34M646.33 452.5h8.34M650.5 448.33v8.34M644.33 450.5h8.34M648.5 446.33v8.34M644.33 454.5h8.34M648.5 450.33v8.34M640.33 448.5h8.34M644.5 444.33v8.34M642.33 456.5h8.34M646.5 452.33v8.34M637.33 440.5h8.34M641.5 436.33v8.34M640.33 440.5h8.34M644.5 436.33v8.34M645.33 455.5h8.34M649.5 451.33v8.34M662.33 442.5h8.34M666.5 438.33v8.34M657.33 441.5h8.34M661.5 437.33v8.34M671.33 452.5h8.34M675.5 448.33v8.34M657.33 446.5h8.34M661.5 442.33v8.34M659.33 458.5h8.34M663.5 454.33v8.34M671.33 450.5h8.34M675.5 446.33v8.34M667.33 442.5h8.34M671.5 438.33v8.34M660.33 454.5h8.34M664.5 450.33v8.34M667.33 445.5h8.34M671.5 441.33v8.34M666.33 457.5h8.34M670.5 453.33v8.34M662.33 457.5h8.34M666.5 453.33v8.34M673.33 449.5h8.34M677.5 445.33v8.34M660.33 440.5h8.34M664.5 436.33v8.34M664.33 445.5h8.34M668.5 441.33v8.34M673.33 448.5h8.34M677.5 444.33v8.34M663.33 440.5h8.34M667.5 436.33v8.34M656.33 440.5h8.34M660.5 436.33v8.34M664.33 452.5h8.34M668.5 448.33v8.34M670.33 442.5h8.34M674.5 438.33v8.34M667.33 447.5h8.34M671.5 443.33v8.34M656.33 457.5h8.34M660.5 453.33v8.34M662.33 457.5h8.34M666.5 453.33v8.34M656.33 457.5h8.34M660.5 453.33v8.34M659.33 447.5h8.34M663.5 443.33v8.34M660.33 446.5h8.34M664.5 442.33v8.34M659.33 455.5h8.34M663.5 451.33v8.34M674.33 458.5h8.34M678.5 454.33v8.34M659.33 441.5h8.34M663.5 437.33v8.34M685.33 458.5h8.34M689.5 454.33v8.34M690.33 446.5h8.34M694.5 442.33v8.34M685.33 447.5h8.34M689.5 443.33v8.34M686.33 450.5h8.34M690.5 446.33v8.34M690.33 456.5h8.34M694.5 452.33v8.34M691.33 446.5h8.34M695.5 442.33v8.34M678.33 447.5h8.34M682.5 443.33v8.34M688.33 443.5h8.34M692.5 439.33v8.34M682.33 442.5h8.34M686.5 438.33v8.34M693.33 459.5h8.34M697.5 455.33v8.34M688.33 449.5h8.34M692.5 445.33v8.34M679.33 459.5h8.34M683.5 455.33v8.34M684.33 442.5h8.34M688.5 438.33v8.34M678.33 445.5h8.34M682.5 441.33v8.34M676.33 454.5h8.34M680.5 450.33v8.34M693.33 454.5h8.34M697.5 450.33v8.34M694.33 449.5h8.34M698.5 445.33v8.34M686.33 449.5h8.34M690.5 445.33v8.34M696.33 457.5h8.34M700.5 453.33v8.34M709.33 459.5h8.34M713.5 455.33v8.34M706.33 448.5h8.34M710.5 444.33v8.34M713.33 440.5h8.34M717.5 436.33v8.34M700.33 459.5h8.34M704.5 455.33v8.34M703.33 441.5h8.34M707.5 437.33v8.34M715.33 458.5h8.34M719.5 454.33v8.34M707.33 451.5h8.34M711.5 447.33v8.34M699.33 440.5h8.34M703.5 436.33v8.34M700.33 455.5h8.34M704.5 451.33v8.34M701.33 444.5h8.34M705.5 440.33v8.34M707.33 440.5h8.34M711.5 436.33v8.34M520.33 460.5h8.34M524.5 456.33v8.34M520.33 466.5h8.34M524.5 462.33v8.34M524.33 464.5h8.34M528.5 460.33v8.34M533.33 461.5h8.34M537.5 457.33v8.34M546.33 460.5h8.34M550.5 456.33v8.34M544.33 467.5h8.34M548.5 463.33v8.34M540.33 464.5h8.34M544.5 460.33v8.34M549.33 463.5h8.34M553.5 459.33v8.34M546.33 469.5h8.34M550.5 465.33v8.34M550.33 467.5h8.34M554.5 463.33v8.34M553.33 460.5h8.34M557.5 456.33v8.34M538.33 463.5h8.34M542.5 459.33v8.34M542.33 460.5h8.34M546.5 456.33v8.34M555.33 465.5h8.34M559.5 461.33v8.34M541.33 463.5h8.34M545.5 459.33v8.34M553.33 463.5h8.34M557.5 459.33v8.34M549.33 462.5h8.34M553.5 458.33v8.34M551.33 461.5h8.34M555.5 457.33v8.34M564.33 465.5h8.34M568.5 461.33v8.34M575.33 461.5h8.34M579.5 457.33v8.34M571.33 461.5h8.34M575.5 457.33v8.34M571.33 460.5h8.34M575.5 456.33v8.34M561.33 469.5h8.34M565.5 465.33v8.34M562.33 465.5h8.34M566.5 461.33v8.34M574.33 467.5h8.34M578.5 463.33v8.34M562.33 470.5h8.34M566.5 466.33v8.34M575.33 467.5h8.34M579.5 463.33v8.34M564.33 466.5h8.34M568.5 462.33v8.34M573.33 462.5h8.34M577.5 458.33v8.34M559.33 466.5h8.34M563.5 462.33v8.34M570.33 466.5h8.34M574.5 462.33v8.34M574.33 465.5h8.34M578.5 461.33v8.34M568.33 468.5h8.34M572.5 464.33v8.34M565.33 469.5h8.34M569.5 465.33v8.34M575.33 465.5h8.34M579.5 461.33v8.34M570.33 465.5h8.34M574.5 461.33v8.34M569.33 470.5h8.34M573.5 466.33v8.34M570.33 470.5h8.34M574.5 466.33v8.34M568.33 465.5h8.34M572.5 461.33v8.34M575.33 472.5h8.34M579.5 468.33v8.34M568.33 461.5h8.34M572.5 457.33v8.34M575.33 469.5h8.34M579.5 465.33v8.34M562.33 463.5h8.34M566.5 459.33v8.34M574.33 474.5h8.34M578.5 470.33v8.34M571.33 462.5h8.34M575.5 458.33v8.34M571.33 470.5h8.34M575.5 466.33v8.34M574.33 467.5h8.34M578.5 463.33v8.34M575.33 467.5h8.34M579.5 463.33v8.34M563.33 467.5h8.34M567.5 463.33v8.34M562.33 460.5h8.34M566.5 456.33v8.34M570.33 464.5h8.34M574.5 460.33v8.34M575.33 462.5h8.34M579.5 458.33v8.34M560.33 465.5h8.34M564.5 461.33v8.34M572.33 461.5h8.34M576.5 457.33v8.34M574.33 460.5h8.34M578.5 456.33v8.34M574.33 470.5h8.34M578.5 466.33v8.34M575.33 468.5h8.34M579.5 464.33v8.34M571.33 463.5h8.34M575.5 459.33v8.34M566.33 473.5h8.34M570.5 469.33v8.34M556.33 469.5h8.34M560.5 465.33v8.34M565.33 469.5h8.34M569.5 465.33v8.34M563.33 464.5h8.34M567.5 460.33v8.34M571.33 460.5h8.34M575.5 456.33v8.34M569.33 474.5h8.34M573.5 470.33v8.34M564.33 465.5h8.34M568.5 461.33v8.34M574.33 467.5h8.34M578.5 463.33v8.34M562.33 467.5h8.34M566.5 463.33v8.34M567.33 464.5h8.34M571.5 460.33v8.34M572.33 476.5h8.34M576.5 472.33v8.34M575.33 472.5h8.34M579.5 468.33v8.34M574.33 465.5h8.34M578.5 461.33v8.34M567.33 466.5h8.34M571.5 462.33v8.34M560.33 460.5h8.34M564.5 456.33v8.34M568.33 462.5h8.34M572.5 458.33v8.34M560.33 472.5h8.34M564.5 468.33v8.34M569.33 460.5h8.34M573.5 456.33v8.34M564.33 460.5h8.34M568.5 456.33v8.34M579.33 471.5h8.34M583.5 467.33v8.34M585.33 476.5h8.34M589.5 472.33v8.34M590.33 478.5h8.34M594.5 474.33v8.34M582.33 467.5h8.34M586.5 463.33v8.34M592.33 461.5h8.34M596.5 457.33v8.34M577.33 468.5h8.34M581.5 464.33v8.34M595.33 473.5h8.34M599.5 469.33v8.34M581.33 465.5h8.34M585.5 461.33v8.34M593.33 471.5h8.34M597.5 467.33v8.34M586.33 462.5h8.34M590.5 458.33v8.34M586.33 467.5h8.34M590.5 463.33v8.34M587.33 466.5h8.34M591.5 462.33v8.34M591.33 477.5h8.34M595.5 473.33v8.34M587.33 477.5h8.34M591.5 473.33v8.34M581.33 470.5h8.34M585.5 466.33v8.34M586.33 462.5h8.34M590.5 458.33v8.34M581.33 473.5h8.34M585.5 469.33v8.34M594.33 469.5h8.34M598.5 465.33v8.34M580.33 469.5h8.34M584.5 465.33v8.34M595.33 472.5h8.34M599.5 468.33v8.34M591.33 464.5h8.34M595.5 460.33v8.34M592.33 466.5h8.34M596.5 462.33v8.34M582.33 460.5h8.34M586.5 456.33v8.34M587.33 472.5h8.34M591.5 468.33v8.34M584.33 476.5h8.34M588.5 472.33v8.34M583.33 462.5h8.34M587.5 458.33v8.34M592.33 463.5h8.34M596.5 459.33v8.34M581.33 467.5h8.34M585.5 463.33v8.34M576.33 470.5h8.34M580.5 466.33v8.34M594.33 462.5h8.34M598.5 458.33v8.34M594.33 461.5h8.34M598.5 457.33v8.34M595.33 473.5h8.34M599.5 469.33v8.34M591.33 464.5h8.34M595.5 460.33v8.34M582.33 463.5h8.34M586.5 459.33v8.34M584.33 467.5h8.34M588.5 463.33v8.34M588.33 471.5h8.34M592.5 467.33v8.34M579.33 471.5h8.34M583.5 467.33v8.34M583.33 461.5h8.34M587.5 457.33v8.34M589.33 461.5h8.34M593.5 457.33v8.34M589.33 471.5h8.34M593.5 467.33v8.34M584.33 475.5h8.34M588.5 471.33v8.34M590.33 470.5h8.34M594.5 466.33v8.34M588.33 465.5h8.34M592.5 461.33v8.34M585.33 470.5h8.34M589.5 466.33v8.34M591.33 473.5h8.34M595.5 469.33v8.34M576.33 468.5h8.34M580.5 464.33v8.34M595.33 477.5h8.34M599.5 473.33v8.34M593.33 462.5h8.34M597.5 458.33v8.34M584.33 464.5h8.34M588.5 460.33v8.34M577.33 465.5h8.34M581.5 461.33v8.34M584.33 473.5h8.34M588.5 469.33v8.34M591.33 467.5h8.34M595.5 463.33v8.34M589.33 461.5h8.34M593.5 457.33v8.34M582.33 473.5h8.34M586.5 469.33v8.34M585.33 468.5h8.34M589.5 464.33v8.34M576.33 464.5h8.34M580.5 460.33v8.34M582.33 470.5h8.34M586.5 466.33v8.34M592.33 465.5h8.34M596.5 461.33v8.34M587.33 467.5h8.34M591.5 463.33v8.34M580.33 474.5h8.34M584.5 470.33v8.34M583.33 463.5h8.34M587.5 459.33v8.34M583.33 468.5h8.34M587.5 464.33v8.34M581.33 474.5h8.34M585.5 470.33v8.34M581.33 463.5h8.34M585.5 459.33v8.34M580.33 461.5h8.34M584.5 457.33v8.34M594.33 460.5h8.34M598.5 456.33v8.34M595.33 474.5h8.34M599.5 470.33v8.34M593.33 471.5h8.34M597.5 467.33v8.34M588.33 463.5h8.34M592.5 459.33v8.34M588.33 478.5h8.34M592.5 474.33v8.34M587.33 463.5h8.34M591.5 459.33v8.34M578.33 468.5h8.34M582.5 464.33v8.34M606.33 472.5h8.34M610.5 468.33v8.34M596.33 478.5h8.34M600.5 474.33v8.34M615.33 470.5h8.34M619.5 466.33v8.34M611.33 463.5h8.34M615.5 459.33v8.34M597.33 473.5h8.34M601.5 469.33v8.34M607.33 479.5h8.34M611.5 475.33v8.34M598.33 460.5h8.34M602.5 456.33v8.34M610.33 476.5h8.34M614.5 472.33v8.34M609.33 465.5h8.34M613.5 461.33v8.34M611.33 472.5h8.34M615.5 468.33v8.34M607.33 465.5h8.34M611.5 461.33v8.34M598.33 477.5h8.34M602.5 473.33v8.34M614.33 473.5h8.34M618.5 469.33v8.34M606.33 472.5h8.34M610.5 468.33v8.34M608.33 468.5h8.34M612.5 464.33v8.34M598.33 473.5h8.34M602.5 469.33v8.34M599.33 461.5h8.34M603.5 457.33v8.34M606.33 461.5h8.34M610.5 457.33v8.34M600.33 476.5h8.34M604.5 472.33v8.34M615.33 463.5h8.34M619.5 459.33v8.34M604.33 471.5h8.34M608.5 467.33v8.34M596.33 463.5h8.34M600.5 459.33v8.34M607.33 473.5h8.34M611.5 469.33v8.34M603.33 474.5h8.34M607.5 470.33v8.34M601.33 468.5h8.34M605.5 464.33v8.34M608.33 464.5h8.34M612.5 460.33v8.34M605.33 464.5h8.34M609.5 460.33v8.34M601.33 471.5h8.34M605.5 467.33v8.34M615.33 471.5h8.34M619.5 467.33v8.34M607.33 472.5h8.34M611.5 468.33v8.34M603.33 470.5h8.34M607.5 466.33v8.34M596.33 466.5h8.34M600.5 462.33v8.34M600.33 462.5h8.34M604.5 458.33v8.34M606.33 464.5h8.34M610.5 460.33v8.34M608.33 467.5h8.34M612.5 463.33v8.34M612.33 478.5h8.34M616.5 474.33v8.34M604.33 469.5h8.34M608.5 465.33v8.34M613.33 467.5h8.34M617.5 463.33v8.34M614.33 466.5h8.34M618.5 462.33v8.34M598.33 469.5h8.34M602.5 465.33v8.34M610.33 478.5h8.34M614.5 474.33v8.34M596.33 464.5h8.34M600.5 460.33v8.34M613.33 470.5h8.34M617.5 466.33v8.34M608.33 472.5h8.34M612.5 468.33v8.34M605.33 471.5h8.34M609.5 467.33v8.34M615.33 464.5h8.34M619.5 460.33v8.34M614.33 473.5h8.34M618.5 469.33v8.34M610.33 476.5h8.34M614.5 472.33v8.34M608.33 460.5h8.34M612.5 456.33v8.34M612.33 470.5h8.34M616.5 466.33v8.34M609.33 468.5h8.34M613.5 464.33v8.34M598.33 477.5h8.34M602.5 473.33v8.34M611.33 467.5h8.34M615.5 463.33v8.34M613.33 465.5h8.34M617.5 461.33v8.34M603.33 471.5h8.34M607.5 467.33v8.34M598.33 476.5h8.34M602.5 472.33v8.34M599.33 465.5h8.34M603.5 461.33v8.34M598.33 479.5h8.34M602.5 475.33v8.34M604.33 472.5h8.34M608.5 468.33v8.34M597.33 475.5h8.34M601.5 471.33v8.34M598.33 463.5h8.34M602.5 459.33v8.34M612.33 466.5h8.34M616.5 462.33v8.34M601.33 464.5h8.34M605.5 460.33v8.34M610.33 465.5h8.34M614.5 461.33v8.34M635.33 474.5h8.34M639.5 470.33v8.34M635.33 468.5h8.34M639.5 464.33v8.34M627.33 463.5h8.34M631.5 459.33v8.34M628.33 464.5h8.34M632.5 460.33v8.34M633.33 473.5h8.34M637.5 469.33v8.34M625.33 470.5h8.34M629.5 466.33v8.34M625.33 461.5h8.34M629.5 457.33v8.34M627.33 462.5h8.34M631.5 458.33v8.34M627.33 472.5h8.34M631.5 468.33v8.34M619.33 476.5h8.34M623.5 472.33v8.34M630.33 469.5h8.34M634.5 465.33v8.34M635.33 478.5h8.34M639.5 474.33v8.34M627.33 461.5h8.34M631.5 457.33v8.34M626.33 475.5h8.34M630.5 471.33v8.34M620.33 460.5h8.34M624.5 456.33v8.34M616.33 470.5h8.34M620.5 466.33v8.34M623.33 468.5h8.34M627.5 464.33v8.34M631.33 460.5h8.34M635.5 456.33v8.34M620.33 469.5h8.34M624.5 465.33v8.34M617.33 472.5h8.34M621.5 468.33v8.34M625.33 463.5h8.34M629.5 459.33v8.34M623.33 471.5h8.34M627.5 467.33v8.34M620.33 468.5h8.34M624.5 464.33v8.34M626.33 464.5h8.34M630.5 460.33v8.34M620.33 463.5h8.34M624.5 459.33v8.34M619.33 460.5h8.34M623.5 456.33v8.34M621.33 475.5h8.34M625.5 471.33v8.34M627.33 463.5h8.34M631.5 459.33v8.34M623.33 467.5h8.34M627.5 463.33v8.34M630.33 463.5h8.34M634.5 459.33v8.34M618.33 463.5h8.34M622.5 459.33v8.34M619.33 472.5h8.34M623.5 468.33v8.34M631.33 468.5h8.34M635.5 464.33v8.34M618.33 472.5h8.34M622.5 468.33v8.34M621.33 467.5h8.34M625.5 463.33v8.34M627.33 462.5h8.34M631.5 458.33v8.34M626.33 472.5h8.34M630.5 468.33v8.34M633.33 470.5h8.34M637.5 466.33v8.34M635.33 475.5h8.34M639.5 471.33v8.34M623.33 463.5h8.34M627.5 459.33v8.34M625.33 477.5h8.34M629.5 473.33v8.34M618.33 468.5h8.34M622.5 464.33v8.34M618.33 478.5h8.34M622.5 474.33v8.34M623.33 478.5h8.34M627.5 474.33v8.34M630.33 470.5h8.34M634.5 466.33v8.34M622.33 467.5h8.34M626.5 463.33v8.34M635.33 462.5h8.34M639.5 458.33v8.34M621.33 466.5h8.34M625.5 462.33v8.34M626.33 476.5h8.34M630.5 472.33v8.34M620.33 470.5h8.34M624.5 466.33v8.34M634.33 470.5h8.34M638.5 466.33v8.34M618.33 467.5h8.34M622.5 463.33v8.34M619.33 470.5h8.34M623.5 466.33v8.34M630.33 465.5h8.34M634.5 461.33v8.34M623.33 478.5h8.34M627.5 474.33v8.34M624.33 465.5h8.34M628.5 461.33v8.34M629.33 475.5h8.34M633.5 471.33v8.34M627.33 471.5h8.34M631.5 467.33v8.34M640.33 461.5h8.34M644.5 457.33v8.34M640.33 473.5h8.34M644.5 469.33v8.34M650.33 469.5h8.34M654.5 465.33v8.34M639.33 477.5h8.34M643.5 473.33v8.34M655.33 466.5h8.34M659.5 462.33v8.34M642.33 466.5h8.34M646.5 462.33v8.34M654.33 466.5h8.34M658.5 462.33v8.34M641.33 464.5h8.34M645.5 460.33v8.34M647.33 466.5h8.34M651.5 462.33v8.34M652.33 462.5h8.34M656.5 458.33v8.34M647.33 466.5h8.34M651.5 462.33v8.34M652.33 464.5h8.34M656.5 460.33v8.34M637.33 464.5h8.34M641.5 460.33v8.34M651.33 461.5h8.34M655.5 457.33v8.34M645.33 469.5h8.34M649.5 465.33v8.34M638.33 466.5h8.34M642.5 462.33v8.34M651.33 475.5h8.34M655.5 471.33v8.34M655.33 470.5h8.34M659.5 466.33v8.34M655.33 464.5h8.34M659.5 460.33v8.34M640.33 475.5h8.34M644.5 471.33v8.34M654.33 479.5h8.34M658.5 475.33v8.34M640.33 476.5h8.34M644.5 472.33v8.34M648.33 476.5h8.34M652.5 472.33v8.34M652.33 474.5h8.34M656.5 470.33v8.34M651.33 479.5h8.34M655.5 475.33v8.34M649.33 466.5h8.34M653.5 462.33v8.34M641.33 478.5h8.34M645.5 474.33v8.34M645.33 470.5h8.34M649.5 466.33v8.34M637.33 468.5h8.34M641.5 464.33v8.34M637.33 461.5h8.34M641.5 457.33v8.34M649.33 470.5h8.34M653.5 466.33v8.34M654.33 469.5h8.34M658.5 465.33v8.34M652.33 468.5h8.34M656.5 464.33v8.34M655.33 466.5h8.34M659.5 462.33v8.34M636.33 477.5h8.34M640.5 473.33v8.34M653.33 465.5h8.34M657.5 461.33v8.34M648.33 476.5h8.34M652.5 472.33v8.34M655.33 473.5h8.34M659.5 469.33v8.34M653.33 473.5h8.34M657.5 469.33v8.34M637.33 475.5h8.34M641.5 471.33v8.34M654.33 473.5h8.34M658.5 469.33v8.34M650.33 472.5h8.34M654.5 468.33v8.34M637.33 461.5h8.34M641.5 457.33v8.34M640.33 466.5h8.34M644.5 462.33v8.34M647.33 478.5h8.34M651.5 474.33v8.34M646.33 470.5h8.34M650.5 466.33v8.34M644.33 473.5h8.34M648.5 469.33v8.34M641.33 475.5h8.34M645.5 471.33v8.34M636.33 464.5h8.34M640.5 460.33v8.34M638.33 470.5h8.34M642.5 466.33v8.34M646.33 460.5h8.34M650.5 456.33v8.34M643.33 461.5h8.34M647.5 457.33v8.34M641.33 476.5h8.34M645.5 472.33v8.34M640.33 460.5h8.34M644.5 456.33v8.34M641.33 476.5h8.34M645.5 472.33v8.34M656.33 472.5h8.34M660.5 468.33v8.34M667.33 462.5h8.34M671.5 458.33v8.34M661.33 476.5h8.34M665.5 472.33v8.34M669.33 479.5h8.34M673.5 475.33v8.34M662.33 462.5h8.34M666.5 458.33v8.34M656.33 472.5h8.34M660.5 468.33v8.34M656.33 467.5h8.34M660.5 463.33v8.34M666.33 463.5h8.34M670.5 459.33v8.34M656.33 468.5h8.34M660.5 464.33v8.34M667.33 471.5h8.34M671.5 467.33v8.34M666.33 462.5h8.34M670.5 458.33v8.34M658.33 463.5h8.34M662.5 459.33v8.34M662.33 466.5h8.34M666.5 462.33v8.34M666.33 476.5h8.34M670.5 472.33v8.34M658.33 472.5h8.34M662.5 468.33v8.34M660.33 473.5h8.34M664.5 469.33v8.34M668.33 478.5h8.34M672.5 474.33v8.34M660.33 465.5h8.34M664.5 461.33v8.34M673.33 463.5h8.34M677.5 459.33v8.34M657.33 470.5h8.34M661.5 466.33v8.34M673.33 460.5h8.34M677.5 456.33v8.34M675.33 476.5h8.34M679.5 472.33v8.34M657.33 462.5h8.34M661.5 458.33v8.34M669.33 463.5h8.34M673.5 459.33v8.34M657.33 464.5h8.34M661.5 460.33v8.34M669.33 465.5h8.34M673.5 461.33v8.34M656.33 461.5h8.34M660.5 457.33v8.34M663.33 462.5h8.34M667.5 458.33v8.34M674.33 470.5h8.34M678.5 466.33v8.34M662.33 461.5h8.34M666.5 457.33v8.34M665.33 471.5h8.34M669.5 467.33v8.34M661.33 477.5h8.34M665.5 473.33v8.34M673.33 462.5h8.34M677.5 458.33v8.34M660.33 475.5h8.34M664.5 471.33v8.34M673.33 470.5h8.34M677.5 466.33v8.34M665.33 466.5h8.34M669.5 462.33v8.34M661.33 470.5h8.34M665.5 466.33v8.34M666.33 467.5h8.34M670.5 463.33v8.34M665.33 476.5h8.34M669.5 472.33v8.34M663.33 468.5h8.34M667.5 464.33v8.34M666.33 471.5h8.34M670.5 467.33v8.34M657.33 466.5h8.34M661.5 462.33v8.34M667.33 474.5h8.34M671.5 470.33v8.34M659.33 468.5h8.34M663.5 464.33v8.34M667.33 461.5h8.34M671.5 457.33v8.34M672.33 474.5h8.34M676.5 470.33v8.34M664.33 467.5h8.34M668.5 463.33v8.34M673.33 466.5h8.34M677.5 462.33v8.34M683.33 468.5h8.34M687.5 464.33v8.34M692.33 472.5h8.34M696.5 468.33v8.34M692.33 466.5h8.34M696.5 462.33v8.34M691.33 471.5h8.34M695.5 467.33v8.34M681.33 471.5h8.34M685.5 467.33v8.34M676.33 461.5h8.34M680.5 457.33v8.34M679.33 479.5h8.34M683.5 475.33v8.34M685.33 463.5h8.34M689.5 459.33v8.34M678.33 460.5h8.34M682.5 456.33v8.34M690.33 469.5h8.34M694.5 465.33v8.34M691.33 466.5h8.34M695.5 462.33v8.34M685.33 471.5h8.34M689.5 467.33v8.34M686.33 463.5h8.34M690.5 459.33v8.34M677.33 464.5h8.34M681.5 460.33v8.34M678.33 474.5h8.34M682.5 470.33v8.34M682.33 470.5h8.34M686.5 466.33v8.34M690.33 464.5h8.34M694.5 460.33v8.34M691.33 475.5h8.34M695.5 471.33v8.34M692.33 476.5h8.34M696.5 472.33v8.34M680.33 466.5h8.34M684.5 462.33v8.34M684.33 474.5h8.34M688.5 470.33v8.34M682.33 461.5h8.34M686.5 457.33v8.34M679.33 472.5h8.34M683.5 468.33v8.34M681.33 470.5h8.34M685.5 466.33v8.34M685.33 472.5h8.34M689.5 468.33v8.34M694.33 474.5h8.34M698.5 470.33v8.34M680.33 460.5h8.34M684.5 456.33v8.34M678.33 471.5h8.34M682.5 467.33v8.34M681.33 478.5h8.34M685.5 474.33v8.34M691.33 465.5h8.34M695.5 461.33v8.34M691.33 460.5h8.34M695.5 456.33v8.34M677.33 463.5h8.34M681.5 459.33v8.34M685.33 473.5h8.34M689.5 469.33v8.34M679.33 479.5h8.34M683.5 475.33v8.34M686.33 478.5h8.34M690.5 474.33v8.34M681.33 467.5h8.34M685.5 463.33v8.34M677.33 470.5h8.34M681.5 466.33v8.34M685.33 476.5h8.34M689.5 472.33v8.34M701.33 477.5h8.34M705.5 473.33v8.34M709.33 472.5h8.34M713.5 468.33v8.34M714.33 470.5h8.34M718.5 466.33v8.34M702.33 466.5h8.34M706.5 462.33v8.34M707.33 479.5h8.34M711.5 475.33v8.34M709.33 465.5h8.34M713.5 461.33v8.34M708.33 474.5h8.34M712.5 470.33v8.34M707.33 465.5h8.34M711.5 461.33v8.34M702.33 465.5h8.34M706.5 461.33v8.34M706.33 464.5h8.34M710.5 460.33v8.34M702.33 478.5h8.34M706.5 474.33v8.34M712.33 473.5h8.34M716.5 469.33v8.34M715.33 467.5h8.34M719.5 463.33v8.34M706.33 479.5h8.34M710.5 475.33v8.34M699.33 479.5h8.34M703.5 475.33v8.34M696.33 463.5h8.34M700.5 459.33v8.34M706.33 468.5h8.34M710.5 464.33v8.34M698.33 476.5h8.34M702.5 472.33v8.34M711.33 470.5h8.34M715.5 466.33v8.34M712.33 470.5h8.34M716.5 466.33v8.34M696.33 477.5h8.34M700.5 473.33v8.34M711.33 466.5h8.34M715.5 462.33v8.34M699.33 479.5h8.34M703.5 475.33v8.34M701.33 472.5h8.34M705.5 468.33v8.34M698.33 465.5h8.34M702.5 461.33v8.34M715.33 465.5h8.34M719.5 461.33v8.34M696.33 463.5h8.34M700.5 459.33v8.34M698.33 469.5h8.34M702.5 465.33v8.34M709.33 470.5h8.34M713.5 466.33v8.34M706.33 467.5h8.34M710.5 463.33v8.34M575.33 480.5h8.34M579.5 476.33v8.34M587.33 483.5h8.34M591.5 479.33v8.34M606.33 480.5h8.34M610.5 476.33v8.34M602.33 483.5h8.34M606.5 479.33v8.34M610.33 480.5h8.34M614.5 476.33v8.34M608.33 484.5h8.34M612.5 480.33v8.34M617.33 481.5h8.34M621.5 477.33v8.34M616.33 480.5h8.34M620.5 476.33v8.34M629.33 480.5h8.34M633.5 476.33v8.34M616.33 482.5h8.34M620.5 478.33v8.34M648.33 483.5h8.34M652.5 479.33v8.34M641.33 482.5h8.34M645.5 478.33v8.34M654.33 483.5h8.34M658.5 479.33v8.34M659.33 480.5h8.34M663.5 476.33v8.34M674.33 482.5h8.34M678.5 478.33v8.34M667.33 484.5h8.34M671.5 480.33v8.34M692.33 480.5h8.34M696.5 476.33v8.34M677.33 481.5h8.34M681.5 477.33v8.34M695.33 484.5h8.34M699.5 480.33v8.34M690.33 481.5h8.34M694.5 477.33v8.34M698.33 480.5h8.34M702.5 476.33v8.34M696.33 482.5h8.34M700.5 478.33v8.34M699.33 480.5h8.34M703.5 476.33v8.34M323.33 466.5h8.34M327.5 462.33v8.34M323.33 468.5h8.34M327.5 464.33v8.34M323.33 467.5h8.34M327.5 463.33v8.34M324.33 467.5h8.34M328.5 463.33v8.34M324.33 466.5h8.34M328.5 462.33v8.34M325.33 468.5h8.34M329.5 464.33v8.34M325.33 468.5h8.34M329.5 464.33v8.34M326.33 467.5h8.34M330.5 463.33v8.34M326.33 466.5h8.34M330.5 462.33v8.34M326.33 468.5h8.34M330.5 464.33v8.34M327.33 468.5h8.34M331.5 464.33v8.34M328.33 468.5h8.34M332.5 464.33v8.34M328.33 466.5h8.34M332.5 462.33v8.34M329.33 470.5h8.34M333.5 466.33v8.34M330.33 469.5h8.34M334.5 465.33v8.34M330.33 467.5h8.34M334.5 463.33v8.34M331.33 467.5h8.34M335.5 463.33v8.34M331.33 467.5h8.34M335.5 463.33v8.34M333.33 467.5h8.34M337.5 463.33v8.34M334.33 466.5h8.34M338.5 462.33v8.34M335.33 466.5h8.34M339.5 462.33v8.34M335.33 466.5h8.34M339.5 462.33v8.34M335.33 466.5h8.34M339.5 462.33v8.34M336.33 466.5h8.34M340.5 462.33v8.34M338.33 467.5h8.34M342.5 463.33v8.34M339.33 467.5h8.34M343.5 463.33v8.34M339.33 465.5h8.34M343.5 461.33v8.34M340.33 467.5h8.34M344.5 463.33v8.34M340.33 466.5h8.34M344.5 462.33v8.34M341.33 468.5h8.34M345.5 464.33v8.34M341.33 466.5h8.34M345.5 462.33v8.34M342.33 467.5h8.34M346.5 463.33v8.34M342.33 469.5h8.34M346.5 465.33v8.34M345.33 468.5h8.34M349.5 464.33v8.34M348.33 467.5h8.34M352.5 463.33v8.34M349.33 467.5h8.34M353.5 463.33v8.34M350.33 466.5h8.34M354.5 462.33v8.34M352.33 468.5h8.34M356.5 464.33v8.34M353.33 467.5h8.34M357.5 463.33v8.34M354.33 465.5h8.34M358.5 461.33v8.34M354.33 467.5h8.34M358.5 463.33v8.34M354.33 467.5h8.34M358.5 463.33v8.34M355.33 467.5h8.34M359.5 463.33v8.34M355.33 467.5h8.34M359.5 463.33v8.34M357.33 469.5h8.34M361.5 465.33v8.34M357.33 466.5h8.34M361.5 462.33v8.34M358.33 467.5h8.34M362.5 463.33v8.34M358.33 467.5h8.34M362.5 463.33v8.34M360.33 468.5h8.34M364.5 464.33v8.34M361.33 467.5h8.34M365.5 463.33v8.34M361.33 468.5h8.34M365.5 464.33v8.34M361.33 468.5h8.34M365.5 464.33v8.34M361.33 468.5h8.34M365.5 464.33v8.34M362.33 468.5h8.34M366.5 464.33v8.34M362.33 466.5h8.34M366.5 462.33v8.34M362.33 467.5h8.34M366.5 463.33v8.34M364.33 468.5h8.34M368.5 464.33v8.34M364.33 467.5h8.34M368.5 463.33v8.34M365.33 466.5h8.34M369.5 462.33v8.34M365.33 467.5h8.34M369.5 463.33v8.34M366.33 468.5h8.34M370.5 464.33v8.34M368.33 467.5h8.34M372.5 463.33v8.34M368.33 467.5h8.34M372.5 463.33v8.34M368.33 468.5h8.34M372.5 464.33v8.34M369.33 467.5h8.34M373.5 463.33v8.34M370.33 467.5h8.34M374.5 463.33v8.34M371.33 468.5h8.34M375.5 464.33v8.34M371.33 467.5h8.34M375.5 463.33v8.34M372.33 467.5h8.34M376.5 463.33v8.34M373.33 469.5h8.34M377.5 465.33v8.34M373.33 468.5h8.34M377.5 464.33v8.34M373.33 467.5h8.34M377.5 463.33v8.34M375.33 467.5h8.34M379.5 463.33v8.34M377.33 468.5h8.34M381.5 464.33v8.34M377.33 465.5h8.34M381.5 461.33v8.34M378.33 468.5h8.34M382.5 464.33v8.34M380.33 467.5h8.34M384.5 463.33v8.34M380.33 467.5h8.34M384.5 463.33v8.34M380.33 466.5h8.34M384.5 462.33v8.34M381.33 467.5h8.34M385.5 463.33v8.34M381.33 466.5h8.34M385.5 462.33v8.34M382.33 468.5h8.34M386.5 464.33v8.34M382.33 466.5h8.34M386.5 462.33v8.34M382.33 466.5h8.34M386.5 462.33v8.34M382.33 466.5h8.34M386.5 462.33v8.34M385.33 466.5h8.34M389.5 462.33v8.34M387.33 467.5h8.34M391.5 463.33v8.34M387.33 467.5h8.34M391.5 463.33v8.34M387.33 467.5h8.34M391.5 463.33v8.34M388.33 469.5h8.34M392.5 465.33v8.34M388.33 466.5h8.34M392.5 462.33v8.34M389.33 468.5h8.34M393.5 464.33v8.34M389.33 467.5h8.34M393.5 463.33v8.34M390.33 466.5h8.34M394.5 462.33v8.34M390.33 467.5h8.34M394.5 463.33v8.34M390.33 466.5h8.34M394.5 462.33v8.34M391.33 467.5h8.34M395.5 463.33v8.34M391.33 466.5h8.34M395.5 462.33v8.34M392.33 468.5h8.34M396.5 464.33v8.34M393.33 468.5h8.34M397.5 464.33v8.34M393.33 466.5h8.34M397.5 462.33v8.34M395.33 466.5h8.34M399.5 462.33v8.34M397.33 468.5h8.34M401.5 464.33v8.34M399.33 467.5h8.34M403.5 463.33v8.34M399.33 466.5h8.34M403.5 462.33v8.34M400.33 466.5h8.34M404.5 462.33v8.34M400.33 466.5h8.34M404.5 462.33v8.34M402.33 467.5h8.34M406.5 463.33v8.34M404.33 467.5h8.34M408.5 463.33v8.34M406.33 468.5h8.34M410.5 464.33v8.34M406.33 467.5h8.34M410.5 463.33v8.34M406.33 468.5h8.34M410.5 464.33v8.34M407.33 467.5h8.34M411.5 463.33v8.34M408.33 468.5h8.34M412.5 464.33v8.34M408.33 467.5h8.34M412.5 463.33v8.34M408.33 466.5h8.34M412.5 462.33v8.34M408.33 467.5h8.34M412.5 463.33v8.34M409.33 467.5h8.34M413.5 463.33v8.34M409.33 467.5h8.34M413.5 463.33v8.34M410.33 466.5h8.34M414.5 462.33v8.34M410.33 467.5h8.34M414.5 463.33v8.34M410.33 469.5h8.34M414.5 465.33v8.34M411.33 468.5h8.34M415.5 464.33v8.34M412.33 467.5h8.34M416.5 463.33v8.34M413.33 467.5h8.34M417.5 463.33v8.34M418.33 467.5h8.34M422.5 463.33v8.34M420.33 468.5h8.34M424.5 464.33v8.34M420.33 466.5h8.34M424.5 462.33v8.34M420.33 468.5h8.34M424.5 464.33v8.34M420.33 467.5h8.34M424.5 463.33v8.34M420.33 467.5h8.34M424.5 463.33v8.34M421.33 466.5h8.34M425.5 462.33v8.34M421.33 468.5h8.34M425.5 464.33v8.34M421.33 467.5h8.34M425.5 463.33v8.34M422.33 467.5h8.34M426.5 463.33v8.34M424.33 467.5h8.34M428.5 463.33v8.34M425.33 466.5h8.34M429.5 462.33v8.34M425.33 466.5h8.34M429.5 462.33v8.34M427.33 467.5h8.34M431.5 463.33v8.34M427.33 467.5h8.34M431.5 463.33v8.34M427.33 467.5h8.34M431.5 463.33v8.34M428.33 467.5h8.34M432.5 463.33v8.34M429.33 468.5h8.34M433.5 464.33v8.34M429.33 467.5h8.34M433.5 463.33v8.34M429.33 466.5h8.34M433.5 462.33v8.34M429.33 468.5h8.34M433.5 464.33v8.34M430.33 469.5h8.34M434.5 465.33v8.34M431.33 467.5h8.34M435.5 463.33v8.34M431.33 467.5h8.34M435.5 463.33v8.34M431.33 468.5h8.34M435.5 464.33v8.34M432.33 467.5h8.34M436.5 463.33v8.34M433.33 467.5h8.34M437.5 463.33v8.34M433.33 467.5h8.34M437.5 463.33v8.34M434.33 465.5h8.34M438.5 461.33v8.34M435.33 467.5h8.34M439.5 463.33v8.34M437.33 467.5h8.34M441.5 463.33v8.34M437.33 465.5h8.34M441.5 461.33v8.34M438.33 466.5h8.34M442.5 462.33v8.34M438.33 468.5h8.34M442.5 464.33v8.34M439.33 467.5h8.34M443.5 463.33v8.34M439.33 467.5h8.34M443.5 463.33v8.34M440.33 465.5h8.34M444.5 461.33v8.34M441.33 466.5h8.34M445.5 462.33v8.34M441.33 467.5h8.34M445.5 463.33v8.34M441.33 467.5h8.34M445.5 463.33v8.34M442.33 467.5h8.34M446.5 463.33v8.34M442.33 467.5h8.34M446.5 463.33v8.34M443.33 466.5h8.34M447.5 462.33v8.34M444.33 467.5h8.34M448.5 463.33v8.34M445.33 469.5h8.34M449.5 465.33v8.34M445.33 467.5h8.34M449.5 463.33v8.34M445.33 465.5h8.34M449.5 461.33v8.34M446.33 466.5h8.34M450.5 462.33v8.34M447.33 468.5h8.34M451.5 464.33v8.34M452.33 468.5h8.34M456.5 464.33v8.34M452.33 468.5h8.34M456.5 464.33v8.34M456.33 466.5h8.34M460.5 462.33v8.34M457.33 468.5h8.34M461.5 464.33v8.34M458.33 468.5h8.34M462.5 464.33v8.34M459.33 467.5h8.34M463.5 463.33v8.34M460.33 467.5h8.34M464.5 463.33v8.34M461.33 468.5h8.34M465.5 464.33v8.34M461.33 468.5h8.34M465.5 464.33v8.34M461.33 467.5h8.34M465.5 463.33v8.34M464.33 467.5h8.34M468.5 463.33v8.34M464.33 468.5h8.34M468.5 464.33v8.34M465.33 467.5h8.34M469.5 463.33v8.34M466.33 467.5h8.34M470.5 463.33v8.34M466.33 468.5h8.34M470.5 464.33v8.34M466.33 467.5h8.34M470.5 463.33v8.34M468.33 466.5h8.34M472.5 462.33v8.34M469.33 467.5h8.34M473.5 463.33v8.34M469.33 468.5h8.34M473.5 464.33v8.34M469.33 468.5h8.34M473.5 464.33v8.34M470.33 466.5h8.34M474.5 462.33v8.34M470.33 468.5h8.34M474.5 464.33v8.34M470.33 468.5h8.34M474.5 464.33v8.34M470.33 468.5h8.34M474.5 464.33v8.34M471.33 469.5h8.34M475.5 465.33v8.34M472.33 468.5h8.34M476.5 464.33v8.34M472.33 467.5h8.34M476.5 463.33v8.34M472.33 465.5h8.34M476.5 461.33v8.34M474.33 468.5h8.34M478.5 464.33v8.34M474.33 467.5h8.34M478.5 463.33v8.34M475.33 468.5h8.34M479.5 464.33v8.34M476.33 466.5h8.34M480.5 462.33v8.34M477.33 468.5h8.34M481.5 464.33v8.34M478.33 467.5h8.34M482.5 463.33v8.34M479.33 467.5h8.34M483.5 463.33v8.34M480.33 467.5h8.34M484.5 463.33v8.34M481.33 467.5h8.34M485.5 463.33v8.34M481.33 467.5h8.34M485.5 463.33v8.34M481.33 468.5h8.34M485.5 464.33v8.34M482.33 468.5h8.34M486.5 464.33v8.34M482.33 468.5h8.34M486.5 464.33v8.34M483.33 466.5h8.34M487.5 462.33v8.34M484.33 466.5h8.34M488.5 462.33v8.34M485.33 466.5h8.34M489.5 462.33v8.34M485.33 468.5h8.34M489.5 464.33v8.34M486.33 468.5h8.34M490.5 464.33v8.34M487.33 466.5h8.34M491.5 462.33v8.34M487.33 467.5h8.34M491.5 463.33v8.34M487.33 467.5h8.34M491.5 463.33v8.34M490.33 466.5h8.34M494.5 462.33v8.34M490.33 466.5h8.34M494.5 462.33v8.34M491.33 466.5h8.34M495.5 462.33v8.34M491.33 467.5h8.34M495.5 463.33v8.34M491.33 467.5h8.34M495.5 463.33v8.34M492.33 468.5h8.34M496.5 464.33v8.34M493.33 469.5h8.34M497.5 465.33v8.34M494.33 466.5h8.34M498.5 462.33v8.34M494.33 467.5h8.34M498.5 463.33v8.34M494.33 469.5h8.34M498.5 465.33v8.34M497.33 467.5h8.34M501.5 463.33v8.34M498.33 467.5h8.34M502.5 463.33v8.34M498.33 467.5h8.34M502.5 463.33v8.34M499.33 466.5h8.34M503.5 462.33v8.34M499.33 465.5h8.34M503.5 461.33v8.34M501.33 466.5h8.34M505.5 462.33v8.34M501.33 468.5h8.34M505.5 464.33v8.34M501.33 468.5h8.34M505.5 464.33v8.34M501.33 466.5h8.34M505.5 462.33v8.34M503.33 466.5h8.34M507.5 462.33v8.34M503.33 467.5h8.34M507.5 463.33v8.34M504.33 469.5h8.34M508.5 465.33v8.34M506.33 466.5h8.34M510.5 462.33v8.34M506.33 468.5h8.34M510.5 464.33v8.34M510.33 467.5h8.34M514.5 463.33v8.34M510.33 467.5h8.34M514.5 463.33v8.34M511.33 468.5h8.34M515.5 464.33v8.34M512.33 466.5h8.34M516.5 462.33v8.34M515.33 466.5h8.34M519.5 462.33v8.34M516.33 467.5h8.34M520.5 463.33v8.34M517.33 468.5h8.34M521.5 464.33v8.34M518.33 468.5h8.34M522.5 464.33v8.34M520.33 467.5h8.34M524.5 463.33v8.34M521.33 470.5h8.34M525.5 466.33v8.34M521.33 466.5h8.34M525.5 462.33v8.34M525.33 467.5h8.34M529.5 463.33v8.34M527.33 466.5h8.34M531.5 462.33v8.34M527.33 467.5h8.34M531.5 463.33v8.34M529.33 469.5h8.34M533.5 465.33v8.34M529.33 467.5h8.34M533.5 463.33v8.34M529.33 466.5h8.34M533.5 462.33v8.34M529.33 466.5h8.34M533.5 462.33v8.34M530.33 467.5h8.34M534.5 463.33v8.34M531.33 466.5h8.34M535.5 462.33v8.34M532.33 468.5h8.34M536.5 464.33v8.34M533.33 467.5h8.34M537.5 463.33v8.34M533.33 468.5h8.34M537.5 464.33v8.34M534.33 468.5h8.34M538.5 464.33v8.34M535.33 467.5h8.34M539.5 463.33v8.34M535.33 467.5h8.34M539.5 463.33v8.34M535.33 467.5h8.34M539.5 463.33v8.34M536.33 466.5h8.34M540.5 462.33v8.34M538.33 467.5h8.34M542.5 463.33v8.34M538.33 467.5h8.34M542.5 463.33v8.34M538.33 466.5h8.34M542.5 462.33v8.34M539.33 466.5h8.34M543.5 462.33v8.34M539.33 467.5h8.34M543.5 463.33v8.34M539.33 468.5h8.34M543.5 464.33v8.34M539.33 466.5h8.34M543.5 462.33v8.34M540.33 467.5h8.34M544.5 463.33v8.34M540.33 467.5h8.34M544.5 463.33v8.34M544.33 468.5h8.34M548.5 464.33v8.34M545.33 468.5h8.34M549.5 464.33v8.34M546.33 467.5h8.34M550.5 463.33v8.34M547.33 466.5h8.34M551.5 462.33v8.34M547.33 467.5h8.34M551.5 463.33v8.34M549.33 469.5h8.34M553.5 465.33v8.34M550.33 467.5h8.34M554.5 463.33v8.34M550.33 467.5h8.34M554.5 463.33v8.34M551.33 466.5h8.34M555.5 462.33v8.34M551.33 467.5h8.34M555.5 463.33v8.34M551.33 468.5h8.34M555.5 464.33v8.34M552.33 466.5h8.34M556.5 462.33v8.34M553.33 468.5h8.34M557.5 464.33v8.34M554.33 466.5h8.34M558.5 462.33v8.34M554.33 467.5h8.34M558.5 463.33v8.34M554.33 469.5h8.34M558.5 465.33v8.34M554.33 468.5h8.34M558.5 464.33v8.34M555.33 466.5h8.34M559.5 462.33v8.34M555.33 465.5h8.34M559.5 461.33v8.34M556.33 467.5h8.34M560.5 463.33v8.34M559.33 466.5h8.34M563.5 462.33v8.34M559.33 467.5h8.34M563.5 463.33v8.34M560.33 467.5h8.34M564.5 463.33v8.34M560.33 467.5h8.34M564.5 463.33v8.34M560.33 465.5h8.34M564.5 461.33v8.34M561.33 467.5h8.34M565.5 463.33v8.34M561.33 467.5h8.34M565.5 463.33v8.34M562.33 467.5h8.34M566.5 463.33v8.34M565.33 468.5h8.34M569.5 464.33v8.34M565.33 466.5h8.34M569.5 462.33v8.34M565.33 467.5h8.34M569.5 463.33v8.34M565.33 467.5h8.34M569.5 463.33v8.34M565.33 466.5h8.34M569.5 462.33v8.34M566.33 467.5h8.34M570.5 463.33v8.34M566.33 466.5h8.34M570.5 462.33v8.34M566.33 467.5h8.34M570.5 463.33v8.34M567.33 467.5h8.34M571.5 463.33v8.34M567.33 468.5h8.34M571.5 464.33v8.34M568.33 468.5h8.34M572.5 464.33v8.34M568.33 467.5h8.34M572.5 463.33v8.34M569.33 466.5h8.34M573.5 462.33v8.34M570.33 467.5h8.34M574.5 463.33v8.34M571.33 467.5h8.34M575.5 463.33v8.34M572.33 467.5h8.34M576.5 463.33v8.34M573.33 467.5h8.34M577.5 463.33v8.34M573.33 468.5h8.34M577.5 464.33v8.34M575.33 467.5h8.34M579.5 463.33v8.34M576.33 466.5h8.34M580.5 462.33v8.34M576.33 466.5h8.34M580.5 462.33v8.34M577.33 466.5h8.34M581.5 462.33v8.34M578.33 466.5h8.34M582.5 462.33v8.34M578.33 468.5h8.34M582.5 464.33v8.34M578.33 468.5h8.34M582.5 464.33v8.34M579.33 467.5h8.34M583.5 463.33v8.34M579.33 467.5h8.34M583.5 463.33v8.34M579.33 469.5h8.34M583.5 465.33v8.34M580.33 467.5h8.34M584.5 463.33v8.34M580.33 466.5h8.34M584.5 462.33v8.34M582.33 468.5h8.34M586.5 464.33v8.34M582.33 467.5h8.34M586.5 463.33v8.34M582.33 467.5h8.34M586.5 463.33v8.34M583.33 467.5h8.34M587.5 463.33v8.34M584.33 467.5h8.34M588.5 463.33v8.34M586.33 466.5h8.34M590.5 462.33v8.34M588.33 468.5h8.34M592.5 464.33v8.34M589.33 468.5h8.34M593.5 464.33v8.34M591.33 468.5h8.34M595.5 464.33v8.34M592.33 467.5h8.34M596.5 463.33v8.34M592.33 466.5h8.34M596.5 462.33v8.34M592.33 466.5h8.34M596.5 462.33v8.34M592.33 467.5h8.34M596.5 463.33v8.34M596.33 468.5h8.34M600.5 464.33v8.34M596.33 468.5h8.34M600.5 464.33v8.34M599.33 467.5h8.34M603.5 463.33v8.34M600.33 467.5h8.34M604.5 463.33v8.34M601.33 468.5h8.34M605.5 464.33v8.34M602.33 467.5h8.34M606.5 463.33v8.34M603.33 467.5h8.34M607.5 463.33v8.34M603.33 467.5h8.34M607.5 463.33v8.34M604.33 466.5h8.34M608.5 462.33v8.34M604.33 466.5h8.34M608.5 462.33v8.34M605.33 467.5h8.34M609.5 463.33v8.34M606.33 468.5h8.34M610.5 464.33v8.34M606.33 467.5h8.34M610.5 463.33v8.34M606.33 467.5h8.34M610.5 463.33v8.34M608.33 469.5h8.34M612.5 465.33v8.34M609.33 467.5h8.34M613.5 463.33v8.34M609.33 467.5h8.34M613.5 463.33v8.34M609.33 467.5h8.34M613.5 463.33v8.34M611.33 467.5h8.34M615.5 463.33v8.34M612.33 466.5h8.34M616.5 462.33v8.34M612.33 466.5h8.34M616.5 462.33v8.34M612.33 467.5h8.34M616.5 463.33v8.34M613.33 467.5h8.34M617.5 463.33v8.34M614.33 466.5h8.34M618.5 462.33v8.34M615.33 468.5h8.34M619.5 464.33v8.34M615.33 468.5h8.34M619.5 464.33v8.34M615.33 468.5h8.34M619.5 464.33v8.34M615.33 468.5h8.34M619.5 464.33v8.34M616.33 467.5h8.34M620.5 463.33v8.34M618.33 467.5h8.34M622.5 463.33v8.34M618.33 467.5h8.34M622.5 463.33v8.34M619.33 467.5h8.34M623.5 463.33v8.34M624.33 466.5h8.34M628.5 462.33v8.34M624.33 466.5h8.34M628.5 462.33v8.34M626.33 467.5h8.34M630.5 463.33v8.34M626.33 469.5h8.34M630.5 465.33v8.34M626.33 466.5h8.34M630.5 462.33v8.34M627.33 468.5h8.34M631.5 464.33v8.34M627.33 466.5h8.34M631.5 462.33v8.34M627.33 467.5h8.34M631.5 463.33v8.34M627.33 467.5h8.34M631.5 463.33v8.34M629.33 468.5h8.34M633.5 464.33v8.34M629.33 467.5h8.34M633.5 463.33v8.34M629.33 466.5h8.34M633.5 462.33v8.34M630.33 466.5h8.34M634.5 462.33v8.34M631.33 466.5h8.34M635.5 462.33v8.34M631.33 467.5h8.34M635.5 463.33v8.34M631.33 468.5h8.34M635.5 464.33v8.34M634.33 468.5h8.34M638.5 464.33v8.34M634.33 466.5h8.34M638.5 462.33v8.34M634.33 468.5h8.34M638.5 464.33v8.34M636.33 466.5h8.34M640.5 462.33v8.34M637.33 467.5h8.34M641.5 463.33v8.34M638.33 467.5h8.34M642.5 463.33v8.34M638.33 466.5h8.34M642.5 462.33v8.34M639.33 468.5h8.34M643.5 464.33v8.34M639.33 466.5h8.34M643.5 462.33v8.34M640.33 467.5h8.34M644.5 463.33v8.34M642.33 468.5h8.34M646.5 464.33v8.34M643.33 467.5h8.34M647.5 463.33v8.34M643.33 465.5h8.34M647.5 461.33v8.34M643.33 467.5h8.34M647.5 463.33v8.34M646.33 467.5h8.34M650.5 463.33v8.34M648.33 465.5h8.34M652.5 461.33v8.34M648.33 467.5h8.34M652.5 463.33v8.34M648.33 467.5h8.34M652.5 463.33v8.34M650.33 468.5h8.34M654.5 464.33v8.34M650.33 468.5h8.34M654.5 464.33v8.34M651.33 467.5h8.34M655.5 463.33v8.34M651.33 468.5h8.34M655.5 464.33v8.34M652.33 466.5h8.34M656.5 462.33v8.34M653.33 467.5h8.34M657.5 463.33v8.34M653.33 469.5h8.34M657.5 465.33v8.34M654.33 467.5h8.34M658.5 463.33v8.34M656.33 467.5h8.34M660.5 463.33v8.34M657.33 467.5h8.34M661.5 463.33v8.34M657.33 466.5h8.34M661.5 462.33v8.34M658.33 465.5h8.34M662.5 461.33v8.34M659.33 466.5h8.34M663.5 462.33v8.34M660.33 466.5h8.34M664.5 462.33v8.34M662.33 468.5h8.34M666.5 464.33v8.34M662.33 467.5h8.34M666.5 463.33v8.34M663.33 467.5h8.34M667.5 463.33v8.34M663.33 467.5h8.34M667.5 463.33v8.34M665.33 468.5h8.34M669.5 464.33v8.34M666.33 467.5h8.34M670.5 463.33v8.34M666.33 465.5h8.34M670.5 461.33v8.34M667.33 467.5h8.34M671.5 463.33v8.34M667.33 468.5h8.34M671.5 464.33v8.34M668.33 467.5h8.34M672.5 463.33v8.34M668.33 470.5h8.34M672.5 466.33v8.34M669.33 467.5h8.34M673.5 463.33v8.34M669.33 468.5h8.34M673.5 464.33v8.34M669.33 467.5h8.34M673.5 463.33v8.34M670.33 468.5h8.34M674.5 464.33v8.34M670.33 468.5h8.34M674.5 464.33v8.34M670.33 468.5h8.34M674.5 464.33v8.34M671.33 467.5h8.34M675.5 463.33v8.34M672.33 467.5h8.34M676.5 463.33v8.34M673.33 466.5h8.34M677.5 462.33v8.34M673.33 467.5h8.34M677.5 463.33v8.34M673.33 466.5h8.34M677.5 462.33v8.34M673.33 467.5h8.34M677.5 463.33v8.34M674.33 466.5h8.34M678.5 462.33v8.34M674.33 467.5h8.34M678.5 463.33v8.34M674.33 468.5h8.34M678.5 464.33v8.34M674.33 466.5h8.34M678.5 462.33v8.34M675.33 466.5h8.34M679.5 462.33v8.34M677.33 469.5h8.34M681.5 465.33v8.34M677.33 468.5h8.34M681.5 464.33v8.34M677.33 468.5h8.34M681.5 464.33v8.34M678.33 468.5h8.34M682.5 464.33v8.34M681.33 466.5h8.34M685.5 462.33v8.34M681.33 467.5h8.34M685.5 463.33v8.34M681.33 467.5h8.34M685.5 463.33v8.34M682.33 465.5h8.34M686.5 461.33v8.34M684.33 468.5h8.34M688.5 464.33v8.34M685.33 468.5h8.34M689.5 464.33v8.34M685.33 468.5h8.34M689.5 464.33v8.34M687.33 468.5h8.34M691.5 464.33v8.34M687.33 466.5h8.34M691.5 462.33v8.34M688.33 465.5h8.34M692.5 461.33v8.34M689.33 468.5h8.34M693.5 464.33v8.34M689.33 468.5h8.34M693.5 464.33v8.34M690.33 467.5h8.34M694.5 463.33v8.34M690.33 467.5h8.34M694.5 463.33v8.34M690.33 467.5h8.34M694.5 463.33v8.34M691.33 467.5h8.34M695.5 463.33v8.34M692.33 466.5h8.34M696.5 462.33v8.34M692.33 466.5h8.34M696.5 462.33v8.34M693.33 467.5h8.34M697.5 463.33v8.34M695.33 467.5h8.34M699.5 463.33v8.34M697.33 469.5h8.34M701.5 465.33v8.34M697.33 467.5h8.34M701.5 463.33v8.34M698.33 467.5h8.34M702.5 463.33v8.34M699.33 468.5h8.34M703.5 464.33v8.34M699.33 467.5h8.34M703.5 463.33v8.34M700.33 468.5h8.34M704.5 464.33v8.34M700.33 466.5h8.34M704.5 462.33v8.34M700.33 466.5h8.34M704.5 462.33v8.34M700.33 466.5h8.34M704.5 462.33v8.34M701.33 466.5h8.34M705.5 462.33v8.34M701.33 468.5h8.34M705.5 464.33v8.34M710.33 468.5h8.34M714.5 464.33v8.34M712.33 466.5h8.34M716.5 462.33v8.34M713.33 469.5h8.34M717.5 465.33v8.34M713.33 466.5h8.34M717.5 462.33v8.34M713.33 468.5h8.34M717.5 464.33v8.34M713.33 468.5h8.34M717.5 464.33v8.34M714.33 467.5h8.34M718.5 463.33v8.34M714.33 466.5h8.34M718.5 462.33v8.34M715.33 465.5h8.34M719.5 461.33v8.34M716.33 466.5h8.34M720.5 462.33v8.34M569.33 248.5h8.34M573.5 244.33v8.34M584.33 245.5h8.34M588.5 241.33v8.34M566.33 234.5h8.34M570.5 230.33v8.34M602.33 268.5h8.34M606.5 264.33v8.34M551.33 287.5h8.34M555.5 283.33v8.34M543.33 248.5h8.34M547.5 244.33v8.34M586.33 261.5h8.34M590.5 257.33v8.34M541.33 208.5h8.34M545.5 204.33v8.34M556.33 211.5h8.34M560.5 207.33v8.34M535.33 207.5h8.34M539.5 203.33v8.34M578.33 284.5h8.34M582.5 280.33v8.34M544.33 237.5h8.34M548.5 233.33v8.34M554.33 227.5h8.34M558.5 223.33v8.34M576.33 264.5h8.34M580.5 260.33v8.34M604.33 265.5h8.34M608.5 261.33v8.34M549.33 213.5h8.34M553.5 209.33v8.34M535.33 236.5h8.34M539.5 232.33v8.34M606.33 287.5h8.34M610.5 283.33v8.34M596.33 204.5h8.34M600.5 200.33v8.34M606.33 287.5h8.34M610.5 283.33v8.34M568.33 253.5h8.34M572.5 249.33v8.34M569.33 243.5h8.34M573.5 239.33v8.34M569.33 235.5h8.34M573.5 231.33v8.34M575.33 293.5h8.34M579.5 289.33v8.34M585.33 238.5h8.34M589.5 234.33v8.34M583.33 217.5h8.34M587.5 213.33v8.34M595.33 272.5h8.34M599.5 268.33v8.34M565.33 250.5h8.34M569.5 246.33v8.34" stroke="#00bfbf" stroke-width="0.8" fill="none"/>
<path d="M363.33 252.33l8.34 8.34M363.33 260.67l8.34 -8.34M442.33 261.33l8.34 8.34M442.33 269.67l8.34 -8.34M426.33 280.33l8.34 8.34M426.33 288.67l8.34 -8.34M440.33 308.33l8.34 8.34M440.33 316.67l8.34 -8.34M356.33 341.33l8.34 8.34M356.33 349.67l8.34 -8.34M357.33 345.33l8.34 8.34M357.33 353.67l8.34 -8.34M371.33 350.33l8.34 8.34M371.33 358.67l8.34 -8.34M402.33 342.33l8.34 8.34M402.33 350.67l8.34 -8.34M405.33 356.33l8.34 8.34M405.33 364.67l8.34 -8.34M395.33 363.33l8.34 8.34M395.33 371.67l8.34 -8.34M386.33 373.33l8.34 8.34M386.33 381.67l8.34 -8.34M411.33 370.33l8.34 8.34M411.33 378.67l8.34 -8.34M412.33 373.33l8.34 8.34M412.33 381.67l8.34 -8.34M391.33 379.33l8.34 8.34M391.33 387.67l8.34 -8.34M441.33 375.33l8.34 8.34M441.33 383.67l8.34 -8.34M425.33 386.33l8.34 8.34M425.33 394.67l8.34 -8.34M326.33 394.33l8.34 8.34M326.33 402.67l8.34 -8.34M378.33 402.33l8.34 8.34M378.33 410.67l8.34 -8.34M437.33 409.33l8.34 8.34M437.33 417.67l8.34 -8.34M415.33 414.33l8.34 8.34M415.33 422.67l8.34 -8.34M373.33 429.33l8.34 8.34M373.33 437.67l8.34 -8.34M415.33 417.33l8.34 8.34M415.33 425.67l8.34 -8.34M401.33 454.33l8.34 8.34M401.33 462.67l8.34 -8.34M369.33 458.33l8.34 8.34M369.33 466.67l8.34 -8.34M340.33 458.33l8.34 8.34M340.33 466.67l8.34 -8.34M440.33 457.33l8.34 8.34M440.33 465.67l8.34 -8.34M454.33 273.33l8.34 8.34M454.33 281.67l8.34 -8.34M457.33 315.33l8.34 8.34M457.33 323.67l8.34 -8.34M457.33 406.33l8.34 8.34M457.33 414.67l8.34 -8.34M457.33 428.33l8.34 8.34M457.33 436.67l8.34 -8.34M454.33 438.33l8.34 8.34M454.33 446.67l8.34 -8.34M321.33 463.33l8.34 8.34M321.33 471.67l8.34 -8.34M322.33 463.33l8.34 8.34M322.33 471.67l8.34 -8.34M322.33 463.33l8.34 8.34M322.33 471.67l8.34 -8.34M325.33 463.33l8.34 8.34M325.33 471.67l8.34 -8.34M325.33 463.33l8.34 8.34M325.33 471.67l8.34 -8.34M327.33 463.33l8.34 8.34M327.33 471.67l8.34 -8.34M327.33 463.33l8.34 8.34M327.33 471.67l8.34 -8.34M328.33 462.33l8.34 8.34M328.33 470.67l8.34 -8.34M328.33 463.33l8.34 8.34M328.33 471.67l8.34 -8.34M329.33 464.33l8.34 8.34M329.33 472.67l8.34 -8.34M332.33 465.33l8.34 8.34M332.33 473.67l8.34 -8.34M333.33 463.33l8.34 8.34M333.33 471.67l8.34 -8.34M334.33 462.33l8.34 8.34M334.33 470.67l8.34 -8.34M334.33 462.33l8.34 8.34M334.33 470.67l8.34 -8.34M335.33 464.33l8.34 8.34M335.33 472.67l8.34 -8.34M335.33 462.33l8.34 8.34M335.33 470.67l8.34 -8.34M335.33 463.33l8.34 8.34M335.33 471.67l8.34 -8.34M336.33 463.33l8.34 8.34M336.33 471.67l8.34 -8.34M336.33 463.33l8.34 8.34M336.33 471.67l8.34 -8.34M336.33 463.33l8.34 8.34M336.33 471.67l8.34 -8.34M338.33 464.33l8.34 8.34M338.33 472.67l8.34 -8.34M338.33 463.33l8.34 8.34M338.33 471.67l8.34 -8.34M340.33 463.33l8.34 8.34M340.33 471.67l8.34 -8.34M341.33 463.33l8.34 8.34M341.33 471.67l8.34 -8.34M341.33 463.33l8.34 8.34M341.33 471.67l8.34 -8.34M342.33 463.33l8.34 8.34M342.33 471.67l8.34 -8.34M345.33 463.33l8.34 8.34M345.33 471.67l8.34 -8.34M346.33 464.33l8.34 8.34M346.33 472.67l8.34 -8.34M347.33 461.33l8.34 8.34M347.33 469.67l8.34 -8.34M348.33 462.33l8.34 8.34M348.33 470.67l8.34 -8.34M349.33 462.33l8.34 8.34M349.33 470.67l8.34 -8.34M351.33 463.33l8.34 8.34M351.33 471.67l8.34 -8.34M353.33 463.33l8.34 8.34M353.33 471.67l8.34 -8.34M353.33 463.33l8.34 8.34M353.33 471.67l8.34 -8.34M353.33 463.33l8.34 8.34M353.33 471.67l8.34 -8.34M353.33 462.33l8.34 8.34M353.33 470.67l8.34 -8.34M356.33 463.33l8.34 8.34M356.33 471.67l8.34 -8.34M357.33 463.33l8.34 8.34M357.33 471.67l8.34 -8.34M359.33 462.33l8.34 8.34M359.33 470.67l8.34 -8.34M359.33 462.33l8.34 8.34M359.33 470.67l8.34 -8.34M359.33 463.33l8.34 8.34M359.33 471.67l8.34 -8.34M361.33 462.33l8.34 8.34M361.33 470.67l8.34 -8.34M362.33 463.33l8.34 8.34M362.33 471.67l8.34 -8.34M363.33 463.33l8.34 8.34M363.33 471.67l8.34 -8.34M366.33 463.33l8.34 8.34M366.33 471.67l8.34 -8.34M367.33 463.33l8.34 8.34M367.33 471.67l8.34 -8.34M367.33 463.33l8.34 8.34M367.33 471.67l8.34 -8.34M367.33 463.33l8.34 8.34M367.33 471.67l8.34 -8.34M367.33 464.33l8.34 8.34M367.33 472.67l8.34 -8.34M367.33 463.33l8.34 8.34M367.33 471.67l8.34 -8.34M368.33 463.33l8.34 8.34M368.33 471.67l8.34 -8.34M368.33 463.33l8.34 8.34M368.33 471.67l8.34 -8.34M370.33 464.33l8.34 8.34M370.33 472.67l8.34 -8.34M371.33 463.33l8.34 8.34M371.33 471.67l8.34 -8.34M372.33 464.33l8.34 8.34M372.33 472.67l8.34 -8.34M372.33 464.33l8.34 8.34M372.33 472.67l8.34 -8.34M374.33 462.33l8.34 8.34M374.33 470.67l8.34 -8.34M376.33 462.33l8.34 8.34M376.33 470.67l8.34 -8.34M377.33 462.33l8.34 8.34M377.33 470.67l8.34 -8.34M377.33 463.33l8.34 8.34M377.33 471.67l8.34 -8.34M378.33 462.33l8.34 8.34M378.33 470.67l8.34 -8.34M379.33 462.33l8.34 8.34M379.33 470.67l8.34 -8.34M380.33 464.33l8.34 8.34M380.33 472.67l8.34 -8.34M380.33 463.33l8.34 8.34M380.33 471.67l8.34 -8.34M380.33 463.33l8.34 8.34M380.33 471.67l8.34 -8.34M381.33 464.33l8.34 8.34M381.33 472.67l8.34 -8.34M381.33 462.33l8.34 8.34M381.33 470.67l8.34 -8.34M382.33 463.33l8.34 8.34M382.33 471.67l8.34 -8.34M383.33 463.33l8.34 8.34M383.33 471.67l8.34 -8.34M385.33 462.33l8.34 8.34M385.33 470.67l8.34 -8.34M386.33 463.33l8.34 8.34M386.33 471.67l8.34 -8.34M386.33 463.33l8.34 8.34M386.33 471.67l8.34 -8.34M387.33 463.33l8.34 8.34M387.33 471.67l8.34 -8.34M387.33 463.33l8.34 8.34M387.33 471.67l8.34 -8.34M388.33 463.33l8.34 8.34M388.33 471.67l8.34 -8.34M388.33 464.33l8.34 8.34M388.33 472.67l8.34 -8.34M389.33 463.33l8.34 8.34M389.33 471.67l8.34 -8.34M391.33 463.33l8.34 8.34M391.33 471.67l8.34 -8.34M392.33 464.33l8.34 8.34M392.33 472.67l8.34 -8.34M392.33 463.33l8.34 8.34M392.33 471.67l8.34 -8.34M393.33 463.33l8.34 8.34M393.33 471.67l8.34 -8.34M395.33 462.33l8.34 8.34M395.33 470.67l8.34 -8.34M397.33 463.33l8.34 8.34M397.33 471.67l8.34 -8.34M397.33 462.33l8.34 8.34M397.33 470.67l8.34 -8.34M399.33 462.33l8.34 8.34M399.33 470.67l8.34 -8.34M400.33 463.33l8.34 8.34M400.33 471.67l8.34 -8.34M402.33 463.33l8.34 8.34M402.33 471.67l8.34 -8.34M402.33 463.33l8.34 8.34M402.33 471.67l8.34 -8.34M404.33 463.33l8.34 8.34M404.33 471.67l8.34 -8.34M404.33 464.33l8.34 8.34M404.33 472.67l8.34 -8.34M405.33 463.33l8.34 8.34M405.33 471.67l8.34 -8.34M405.33 463.33l8.34 8.34M405.33 471.67l8.34 -8.34M405.33 464.33l8.34 8.34M405.33 472.67l8.34 -8.34M406.33 464.33l8.34 8.34M406.33 472.67l8.34 -8.34M407.33 464.33l8.34 8.34M407.33 472.67l8.34 -8.34M407.33 463.33l8.34 8.34M407.33 471.67l8.34 -8.34M409.33 462.33l8.34 8.34M409.33 470.67l8.34 -8.34M410.33 463.33l8.34 8.34M410.33 471.67l8.34 -8.34M411.33 463.33l8.34 8.34M411.33 471.67l8.34 -8.34M411.33 463.33l8.34 8.34M411.33 471.67l8.34 -8.34M413.33 464.33l8.34 8.34M413.33 472.67l8.34 -8.34M413.33 463.33l8.34 8.34M413.33 471.67l8.34 -8.34M414.33 463.33l8.34 8.34M414.33 471.67l8.34 -8.34M415.33 463.33l8.34 8.34M415.33 471.67l8.34 -8.34M416.33 463.33l8.34 8.34M416.33 471.67l8.34 -8.34M417.33 463.33l8.34 8.34M417.33 471.67l8.34 -8.34M418.33 463.33l8.34 8.34M418.33 471.67l8.34 -8.34M418.33 464.33l8.34 8.34M418.33 472.67l8.34 -8.34M419.33 463.33l8.34 8.34M419.33 471.67l8.34 -8.34M419.33 464.33l8.34 8.34M419.33 472.67l8.34 -8.34M420.33 463.33l8.34 8.34M420.33 471.67l8.34 -8.34M420.33 463.33l8.34 8.34M420.33 471.67l8.34 -8.34M423.33 463.33l8.34 8.34M423.33 471.67l8.34 -8.34M423.33 464.33l8.34 8.34M423.33 472.67l8.34 -8.34M423.33 463.33l8.34 8.34M423.33 471.67l8.34 -8.34M424.33 462.33l8.34 8.34M424.33 470.67l8.34 -8.34M424.33 463.33l8.34 8.34M424.33 471.67l8.34 -8.34M424.33 463.33l8.34 8.34M424.33 471.67l8.34 -8.34M425.33 463.33l8.34 8.34M425.33 471.67l8.34 -8.34M426.33 464.33l8.34 8.34M426.33 472.67l8.34 -8.34M427.33 463.33l8.34 8.34M427.33 471.67l8.34 -8.34M428.33 463.33l8.34 8.34M428.33 471.67l8.34 -8.34M429.33 462.33l8.34 8.34M429.33 470.67l8.34 -8.34M430.33 463.33l8.34 8.34M430.33 471.67l8.34 -8.34M430.33 463.33l8.34 8.34M430.33 471.67l8.34 -8.34M430.33 463.33l8.34 8.34M430.33 471.67l8.34 -8.34M431.33 462.33l8.34 8.34M431.33 470.67l8.34 -8.34M431.33 462.33l8.34 8.34M431.33 470.67l8.34 -8.34M431.33 463.33l8.34 8.34M431.33 471.67l8.34 -8.34M431.33 464.33l8.34 8.34M431.33 472.67l8.34 -8.34M432.33 463.33l8.34 8.34M432.33 471.67l8.34 -8.34M432.33 463.33l8.34 8.34M432.33 471.67l8.34 -8.34M432.33 461.33l8.34 8.34M432.33 469.67l8.34 -8.34M432.33 463.33l8.34 8.34M432.33 471.67l8.34 -8.34M433.33 465.33l8.34 8.34M433.33 473.67l8.34 -8.34M433.33 463.33l8.34 8.34M433.33 471.67l8.34 -8.34M434.33 463.33l8.34 8.34M434.33 471.67l8.34 -8.34M434.33 463.33l8.34 8.34M434.33 471.67l8.34 -8.34M434.33 463.33l8.34 8.34M434.33 471.67l8.34 -8.34M434.33 463.33l8.34 8.34M434.33 471.67l8.34 -8.34M435.33 463.33l8.34 8.34M435.33 471.67l8.34 -8.34M435.33 463.33l8.34 8.34M435.33 471.67l8.34 -8.34M435.33 463.33l8.34 8.34M435.33 471.67l8.34 -8.34M436.33 463.33l8.34 8.34M436.33 471.67l8.34 -8.34M436.33 463.33l8.34 8.34M436.33 471.67l8.34 -8.34M436.33 463.33l8.34 8.34M436.33 471.67l8.34 -8.34M437.33 462.33l8.34 8.34M437.33 470.67l8.34 -8.34M437.33 462.33l8.34 8.34M437.33 470.67l8.34 -8.34M437.33 464.33l8.34 8.34M437.33 472.67l8.34 -8.34M438.33 462.33l8.34 8.34M438.33 470.67l8.34 -8.34M438.33 464.33l8.34 8.34M438.33 472.67l8.34 -8.34M438.33 462.33l8.34 8.34M438.33 470.67l8.34 -8.34M439.33 462.33l8.34 8.34M439.33 470.67l8.34 -8.34M439.33 464.33l8.34 8.34M439.33 472.67l8.34 -8.34M439.33 462.33l8.34 8.34M439.33 470.67l8.34 -8.34M440.33 463.33l8.34 8.34M440.33 471.67l8.34 -8.34M440.33 463.33l8.34 8.34M440.33 471.67l8.34 -8.34M441.33 463.33l8.34 8.34M441.33 471.67l8.34 -8.34M441.33 462.33l8.34 8.34M441.33 470.67l8.34 -8.34M442.33 464.33l8.34 8.34M442.33 472.67l8.34 -8.34M442.33 464.33l8.34 8.34M442.33 472.67l8.34 -8.34M442.33 462.33l8.34 8.34M442.33 470.67l8.34 -8.34M442.33 463.33l8.34 8.34M442.33 471.67l8.34 -8.34M443.33 463.33l8.34 8.34M443.33 471.67l8.34 -8.34M443.33 462.33l8.34 8.34M443.33 470.67l8.34 -8.34M443.33 463.33l8.34 8.34M443.33 471.67l8.34 -8.34M443.33 463.33l8.34 8.34M443.33 471.67l8.34 -8.34M443.33 463.33l8.34 8.34M443.33 471.67l8.34 -8.34M444.33 462.33l8.34 8.34M444.33 470.67l8.34 -8.34M444.33 463.33l8.34 8.34M444.33 471.67l8.34 -8.34M445.33 463.33l8.34 8.34M445.33 471.67l8.34 -8.34M445.33 463.33l8.34 8.34M445.33 471.67l8.34 -8.34M445.33 463.33l8.34 8.34M445.33 471.67l8.34 -8.34M446.33 463.33l8.34 8.34M446.33 471.67l8.34 -8.34M447.33 464.33l8.34 8.34M447.33 472.67l8.34 -8.34M447.33 464.33l8.34 8.34M447.33 472.67l8.34 -8.34M447.33 463.33l8.34 8.34M447.33 471.67l8.34 -8.34M448.33 463.33l8.34 8.34M448.33 471.67l8.34 -8.34M448.33 463.33l8.34 8.34M448.33 471.67l8.34 -8.34M448.33 463.33l8.34 8.34M448.33 471.67l8.34 -8.34M449.33 463.33l8.34 8.34M449.33 471.67l8.34 -8.34M449.33 464.33l8.34 8.34M449.33 472.67l8.34 -8.34M450.33 464.33l8.34 8.34M450.33 472.67l8.34 -8.34M450.33 462.33l8.34 8.34M450.33 470.67l8.34 -8.34M450.33 463.33l8.34 8.34M450.33 471.67l8.34 -8.34M450.33 464.33l8.34 8.34M450.33 472.67l8.34 -8.34M450.33 463.33l8.34 8.34M450.33 471.67l8.34 -8.34M450.33 463.33l8.34 8.34M450.33 471.67l8.34 -8.34M451.33 463.33l8.34 8.34M451.33 471.67l8.34 -8.34M451.33 463.33l8.34 8.34M451.33 471.67l8.34 -8.34M451.33 464.33l8.34 8.34M451.33 472.67l8.34 -8.34M451.33 462.33l8.34 8.34M451.33 470.67l8.34 -8.34M452.33 463.33l8.34 8.34M452.33 471.67l8.34 -8.34M452.33 464.33l8.34 8.34M452.33 472.67l8.34 -8.34M453.33 463.33l8.34 8.34M453.33 471.67l8.34 -8.34M453.33 463.33l8.34 8.34M453.33 471.67l8.34 -8.34M453.33 462.33l8.34 8.34M453.33 470.67l8.34 -8.34M453.33 463.33l8.34 8.34M453.33 471.67l8.34 -8.34M454.33 464.33l8.34 8.34M454.33 472.67l8.34 -8.34M454.33 464.33l8.34 8.34M454.33 472.67l8.34 -8.34M454.33 463.33l8.34 8.34M454.33 471.67l8.34 -8.34M454.33 463.33l8.34 8.34M454.33 471.67l8.34 -8.34M454.33 463.33l8.34 8.34M454.33 471.67l8.34 -8.34M455.33 463.33l8.34 8.34M455.33 471.67l8.34 -8.34M455.33 463.33l8.34 8.34M455.33 471.67l8.34 -8.34M455.33 464.33l8.34 8.34M455.33 472.67l8.34 -8.34M455.33 464.33l8.34 8.34M455.33 472.67l8.34 -8.34M455.33 463.33l8.34 8.34M455.33 471.67l8.34 -8.34M455.33 463.33l8.34 8.34M455.33 471.67l8.34 -8.34M456.33 463.33l8.34 8.34M456.33 471.67l8.34 -8.34M456.33 463.33l8.34 8.34M456.33 471.67l8.34 -8.34M456.33 463.33l8.34 8.34M456.33 471.67l8.34 -8.34M456.33 463.33l8.34 8.34M456.33 471.67l8.34 -8.34M457.33 463.33l8.34 8.34M457.33 471.67l8.34 -8.34M457.33 464.33l8.34 8.34M457.33 472.67l8.34 -8.34M457.33 463.33l8.34 8.34M457.33 471.67l8.34 -8.34M457.33 462.33l8.34 8.34M457.33 470.67l8.34 -8.34M458.33 462.33l8.34 8.34M458.33 470.67l8.34 -8.34M458.33 463.33l8.34 8.34M458.33 471.67l8.34 -8.34M458.33 463.33l8.34 8.34M458.33 471.67l8.34 -8.34M458.33 463.33l8.34 8.34M458.33 471.67l8.34 -8.34M458.33 463.33l8.34 8.34M458.33 471.67l8.34 -8.34" stroke="#0000ff" stroke-width="0.8" fill="none"/>
<circle cx="337.7" cy="467.7" r="4.1" fill="#000"/>
<circle cx="340.3" cy="467.7" r="4.1" fill="#000"/>
<circle cx="341.4" cy="467.2" r="4.1" fill="#000"/>
<circle cx="344.1" cy="467.6" r="4.1" fill="#000"/>
<circle cx="344.2" cy="467.6" r="4.1" fill="#000"/>
<circle cx="355.6" cy="467.9" r="4.1" fill="#000"/>
<circle cx="357.2" cy="467.2" r="4.1" fill="#000"/>
<circle cx="359.3" cy="467.6" r="4.1" fill="#000"/>
<circle cx="362.1" cy="467.5" r="4.1" fill="#000"/>
<circle cx="364.0" cy="467.3" r="4.1" fill="#000"/>
<circle cx="366.5" cy="468.0" r="4.1" fill="#000"/>
<circle cx="367.7" cy="467.8" r="4.1" fill="#000"/>
<circle cx="369.2" cy="467.5" r="4.1" fill="#000"/>
<circle cx="371.5" cy="467.2" r="4.1" fill="#000"/>
<circle cx="374.0" cy="467.4" r="4.1" fill="#000"/>
<circle cx="376.1" cy="467.6" r="4.1" fill="#000"/>
<circle cx="386.4" cy="467.6" r="4.1" fill="#000"/>
<circle cx="387.9" cy="467.6" r="4.1" fill="#000"/>
<circle cx="399.1" cy="467.7" r="4.1" fill="#000"/>
<circle cx="400.6" cy="467.6" r="4.1" fill="#000"/>
<circle cx="402.2" cy="467.2" r="4.1" fill="#000"/>
<circle cx="403.2" cy="467.3" r="4.1" fill="#000"/>
<circle cx="404.9" cy="467.6" r="4.1" fill="#000"/>
<circle cx="406.9" cy="467.6" r="4.1" fill="#000"/>
<circle cx="409.6" cy="467.3" r="4.1" fill="#000"/>
<circle cx="411.8" cy="467.2" r="4.1" fill="#000"/>
<circle cx="413.3" cy="467.2" r="4.1" fill="#000"/>
<circle cx="415.5" cy="467.0" r="4.1" fill="#000"/>
<circle cx="417.9" cy="467.3" r="4.1" fill="#000"/>
<circle cx="418.7" cy="467.6" r="4.1" fill="#000"/>
<circle cx="428.2" cy="467.6" r="4.1" fill="#000"/>
<circle cx="436.8" cy="467.6" r="4.1" fill="#000"/>
<circle cx="378.0" cy="469.5" r="4.1" fill="#000"/>
<circle cx="414.2" cy="471.0" r="4.1" fill="#000"/>
<path d="M100 467.5H721" stroke="#0000ff" stroke-width="1.4" stroke-dasharray="8.333 8.333" fill="none"/>
</g>
<path d="M100.5 540.5v-6M183.5 540.5v-6M265.5 540.5v-6M348.5 540.5v-6M431.5 540.5v-6M513.5 540.5v-6M596.5 540.5v-6M679.5 540.5v-6M134.5 60.5v6M216.5 60.5v6M299.5 60.5v6M382.5 60.5v6M464.5 60.5v6M547.5 60.5v6M630.5 60.5v6M712.5 60.5v6M100.5 540.5h6M720.5 540.5h-6M100.5 420.5h6M720.5 420.5h-6M100.5 300.5h6M720.5 300.5h-6M100.5 180.5h6M720.5 180.5h-6M100.5 60.5h6M720.5 60.5h-6" stroke="#000" stroke-width="0.8" fill="none"/>
<rect x="100.5" y="60.5" width="620.0" height="480.0" fill="none" stroke="#000" stroke-width="1.4"/>
<g font-family="'DejaVu Sans', 'Liberation Sans', sans-serif" fill="#000">
<g font-size="16.667px" text-anchor="middle">
<text x="100.5" y="559.5">−20</text>
<text x="183.5" y="559.5">−18</text>
<text x="265.5" y="559.5">−16</text>
<text x="348.5" y="559.5">−14</text>
<text x="431.5" y="559.5">−12</text>
<text x="513.5" y="559.5">−10</text>
<text x="596.5" y="559.5">−8</text>
<text x="679.5" y="559.5">−6</text>
<text x="134.5" y="50.3">14</text>
<text x="216.5" y="50.3">16</text>
<text x="299.5" y="50.3">18</text>
<text x="382.5" y="50.3">20</text>
<text x="464.5" y="50.3">22</text>
<text x="547.5" y="50.3">24</text>
<text x="630.5" y="50.3">26</text>
<text x="712.5" y="50.3">28</text>
</g><g font-size="16.667px" text-anchor="end">
<text x="95.2" y="544.2">0</text>
<text x="95.2" y="424.2">5</text>
<text x="95.2" y="304.2">10</text>
<text x="95.2" y="184.2">15</text>
<text x="95.2" y="64.2">20</text>
</g>
<text x="411" y="28.6" font-size="20px" text-anchor="middle">FWHM vs magnitudes</text>
<text x="410.5" y="583.5" font-size="16.667px" text-anchor="middle">magnitude (bottom:isnt / top:calib)</text>
<text transform="translate(63.2 299.5) rotate(-90)" font-size="16.667px" text-anchor="middle">FWHM (pix)</text>
<rect x="398.5" y="70.5" width="312" height="122" fill="#fff" stroke="#000" stroke-width="1.4"/>
<path d="M408.33 86.5h8.34M412.5 82.33v8.34M436.33 86.5h8.34M440.5 82.33v8.34" stroke="#00bfbf" stroke-width="0.8" fill="none"/>
<path d="M408.33 111.33l8.34 8.34M408.33 119.67l8.34 -8.34M436.33 111.33l8.34 8.34M436.33 119.67l8.34 -8.34" stroke="#0000ff" stroke-width="0.8" fill="none"/>
<circle cx="412.5" cy="144.5" r="4.5"/><circle cx="440.5" cy="144.5" r="4.5"/>
<path d="M412.4 173.5H440.4" stroke="#0000ff" stroke-width="1.4" stroke-dasharray="8.333 8.333" fill="none"/>
<g font-size="20px">
<text x="461.8" y="93.0">all sample</text>
<text x="461.8" y="122.0">sample for rough FWHM</text>
<text x="461.8" y="151.0">coarse PSF-like sample</text>
<text x="461.8" y="180.0">tentative FWHM</text>
</g></g></svg>
</body></html>
